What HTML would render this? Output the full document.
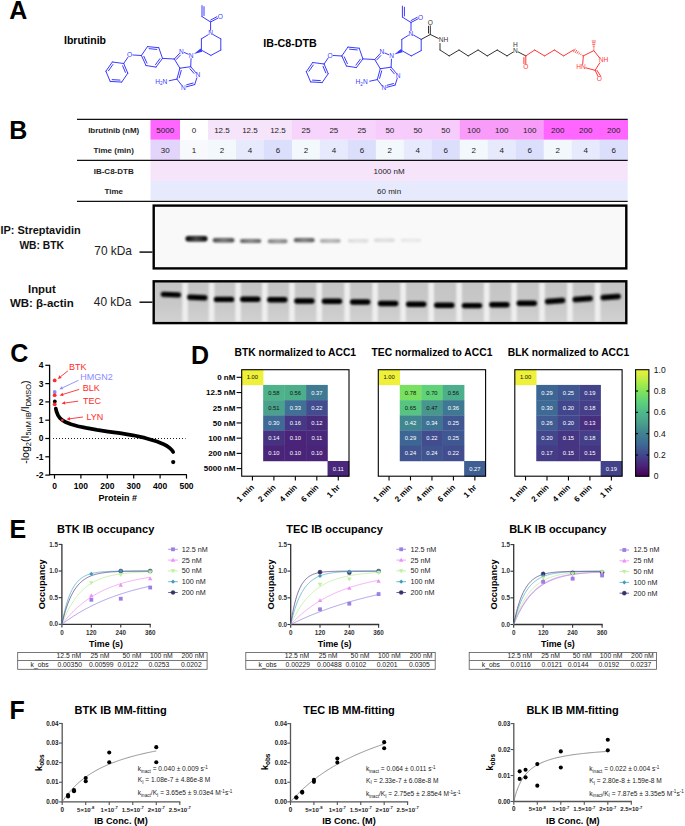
<!DOCTYPE html>
<html><head><meta charset="utf-8"><style>
html,body{margin:0;padding:0;background:#fff;}
svg{display:block;font-family:"Liberation Sans",sans-serif;}
</style></head><body>
<svg width="685" height="826" viewBox="0 0 685 826">
<rect width="685" height="826" fill="#fff"/>
<text x="9.30" y="18.90" font-size="25" font-weight="bold">A</text>
<text x="64.00" y="44.20" font-size="10.5" font-weight="bold">Ibrutinib</text>
<text x="263.30" y="47.10" font-size="10.7" font-weight="bold">IB-C8-DTB</text>
<g id="ibr"><line x1="123.70" y1="63.50" x2="112.30" y2="62.00" stroke="#3a3aff" stroke-width="1.0" stroke-linecap="round"/><line x1="112.30" y1="62.00" x2="105.90" y2="71.20" stroke="#3a3aff" stroke-width="1.0" stroke-linecap="round"/><line x1="105.90" y1="71.20" x2="110.20" y2="81.40" stroke="#3a3aff" stroke-width="1.0" stroke-linecap="round"/><line x1="110.20" y1="81.40" x2="121.70" y2="82.10" stroke="#3a3aff" stroke-width="1.0" stroke-linecap="round"/><line x1="121.70" y1="82.10" x2="127.80" y2="73.20" stroke="#3a3aff" stroke-width="1.0" stroke-linecap="round"/><line x1="127.80" y1="73.20" x2="123.70" y2="63.50" stroke="#3a3aff" stroke-width="1.0" stroke-linecap="round"/><line x1="112.84" y1="64.56" x2="108.48" y2="70.81" stroke="#3a3aff" stroke-width="1.0" stroke-linecap="round"/><line x1="112.16" y1="79.62" x2="119.98" y2="80.09" stroke="#3a3aff" stroke-width="1.0" stroke-linecap="round"/><line x1="125.39" y1="72.39" x2="122.61" y2="65.79" stroke="#3a3aff" stroke-width="1.0" stroke-linecap="round"/><line x1="123.70" y1="63.50" x2="127.80" y2="57.45" stroke="#3a3aff" stroke-width="1.0" stroke-linecap="round"/><text x="129.60" y="57.08" font-size="6.6" text-anchor="middle" fill="#3a3aff">O</text><line x1="132.79" y1="54.99" x2="141.40" y2="55.50" stroke="#3a3aff" stroke-width="1.0" stroke-linecap="round"/><line x1="141.40" y1="55.50" x2="147.50" y2="46.60" stroke="#3a3aff" stroke-width="1.0" stroke-linecap="round"/><line x1="147.50" y1="46.60" x2="158.80" y2="47.70" stroke="#3a3aff" stroke-width="1.0" stroke-linecap="round"/><line x1="158.80" y1="47.70" x2="162.50" y2="58.40" stroke="#3a3aff" stroke-width="1.0" stroke-linecap="round"/><line x1="162.50" y1="58.40" x2="156.00" y2="67.10" stroke="#3a3aff" stroke-width="1.0" stroke-linecap="round"/><line x1="156.00" y1="67.10" x2="146.00" y2="65.50" stroke="#3a3aff" stroke-width="1.0" stroke-linecap="round"/><line x1="146.00" y1="65.50" x2="141.40" y2="55.50" stroke="#3a3aff" stroke-width="1.0" stroke-linecap="round"/><line x1="149.12" y1="48.67" x2="156.81" y2="49.42" stroke="#3a3aff" stroke-width="1.0" stroke-linecap="round"/><line x1="146.99" y1="63.11" x2="143.86" y2="56.31" stroke="#3a3aff" stroke-width="1.0" stroke-linecap="round"/><line x1="159.94" y1="58.65" x2="155.52" y2="64.57" stroke="#3a3aff" stroke-width="1.0" stroke-linecap="round"/><line x1="162.50" y1="58.40" x2="174.30" y2="59.00" stroke="#3a3aff" stroke-width="1.0" stroke-linecap="round"/><line x1="174.30" y1="59.00" x2="179.45" y2="53.49" stroke="#3a3aff" stroke-width="1.0" stroke-linecap="round"/><line x1="176.33" y1="59.46" x2="180.39" y2="55.13" stroke="#3a3aff" stroke-width="1.0" stroke-linecap="round"/><line x1="184.45" y1="52.55" x2="188.25" y2="54.15" stroke="#3a3aff" stroke-width="1.0" stroke-linecap="round"/><line x1="191.06" y1="58.60" x2="190.70" y2="66.70" stroke="#3a3aff" stroke-width="1.0" stroke-linecap="round"/><line x1="190.70" y1="66.70" x2="179.90" y2="68.20" stroke="#3a3aff" stroke-width="1.0" stroke-linecap="round"/><line x1="179.90" y1="68.20" x2="174.30" y2="59.00" stroke="#3a3aff" stroke-width="1.0" stroke-linecap="round"/><line x1="190.70" y1="66.70" x2="195.84" y2="72.63" stroke="#3a3aff" stroke-width="1.0" stroke-linecap="round"/><line x1="189.97" y1="68.76" x2="193.95" y2="73.36" stroke="#3a3aff" stroke-width="1.0" stroke-linecap="round"/><line x1="196.89" y1="77.76" x2="194.70" y2="84.60" stroke="#3a3aff" stroke-width="1.0" stroke-linecap="round"/><line x1="194.70" y1="84.60" x2="186.40" y2="86.82" stroke="#3a3aff" stroke-width="1.0" stroke-linecap="round"/><line x1="193.09" y1="83.06" x2="186.64" y2="84.79" stroke="#3a3aff" stroke-width="1.0" stroke-linecap="round"/><line x1="181.66" y1="85.23" x2="176.90" y2="79.10" stroke="#3a3aff" stroke-width="1.0" stroke-linecap="round"/><line x1="176.90" y1="79.10" x2="179.90" y2="68.20" stroke="#3a3aff" stroke-width="1.0" stroke-linecap="round"/><line x1="179.21" y1="77.86" x2="181.25" y2="70.45" stroke="#3a3aff" stroke-width="1.0" stroke-linecap="round"/><line x1="176.90" y1="79.10" x2="169.21" y2="80.72" stroke="#3a3aff" stroke-width="1.0" stroke-linecap="round"/><text x="181.50" y="53.58" font-size="6.6" text-anchor="middle" fill="#3a3aff">N</text><text x="191.20" y="57.68" font-size="6.6" text-anchor="middle" fill="#3a3aff">N</text><text x="197.80" y="77.18" font-size="6.6" text-anchor="middle" fill="#3a3aff">N</text><text x="183.50" y="89.88" font-size="6.6" text-anchor="middle" fill="#3a3aff">N</text><text x="167.30" y="83.88" font-size="6.6" text-anchor="end" fill="#3a3aff">H<tspan font-size="4.6" dy="1.6">2</tspan><tspan dy="-1.6">N</tspan></text><line x1="201.40" y1="50.10" x2="201.40" y2="38.90" stroke="#3a3aff" stroke-width="1.0" stroke-linecap="round"/><line x1="201.40" y1="38.90" x2="208.05" y2="34.78" stroke="#3a3aff" stroke-width="1.0" stroke-linecap="round"/><line x1="213.22" y1="34.66" x2="220.80" y2="38.90" stroke="#3a3aff" stroke-width="1.0" stroke-linecap="round"/><line x1="220.80" y1="38.90" x2="220.80" y2="50.10" stroke="#3a3aff" stroke-width="1.0" stroke-linecap="round"/><line x1="220.80" y1="50.10" x2="210.90" y2="55.40" stroke="#3a3aff" stroke-width="1.0" stroke-linecap="round"/><line x1="210.90" y1="55.40" x2="201.40" y2="50.10" stroke="#3a3aff" stroke-width="1.0" stroke-linecap="round"/><text x="210.60" y="35.48" font-size="6.6" text-anchor="middle" fill="#3a3aff">N</text><path d="M193.86,54.02 L202.23,51.70 L200.57,48.50Z" fill="#3a3aff"/><line x1="210.60" y1="30.20" x2="210.60" y2="22.00" stroke="#3a3aff" stroke-width="1.0" stroke-linecap="round"/><line x1="210.60" y1="22.00" x2="217.64" y2="18.30" stroke="#3a3aff" stroke-width="1.0" stroke-linecap="round"/><line x1="210.69" y1="20.03" x2="216.85" y2="16.79" stroke="#3a3aff" stroke-width="1.0" stroke-linecap="round"/><text x="220.30" y="19.18" font-size="6.6" text-anchor="middle" fill="#3a3aff">O</text><line x1="210.60" y1="22.00" x2="202.00" y2="16.60" stroke="#3a3aff" stroke-width="1.0" stroke-linecap="round"/><line x1="202.00" y1="16.60" x2="202.00" y2="5.60" stroke="#3a3aff" stroke-width="1.0" stroke-linecap="round"/><line x1="204.00" y1="15.50" x2="204.00" y2="6.70" stroke="#3a3aff" stroke-width="1.0" stroke-linecap="round"/></g>
<use href="#ibr" transform="translate(200.4,0.5)"/>
<line x1="421.20" y1="39.40" x2="430.30" y2="34.50" stroke="#333333" stroke-width="1.0" stroke-linecap="round"/>
<line x1="430.30" y1="34.50" x2="430.30" y2="25.80" stroke="#333333" stroke-width="1.0" stroke-linecap="round"/>
<line x1="428.50" y1="33.50" x2="428.50" y2="25.80" stroke="#333333" stroke-width="1.0"/>
<text x="430.30" y="25.08" font-size="6.6" text-anchor="middle" fill="#333333">O</text>
<line x1="430.30" y1="34.50" x2="438.32" y2="38.40" stroke="#333333" stroke-width="1.0" stroke-linecap="round"/>
<text x="443.40" y="42.08" font-size="6.6" text-anchor="middle" fill="#333333">NH</text>
<line x1="440.00" y1="43.50" x2="440.00" y2="50.00" stroke="#333333" stroke-width="1.0" stroke-linecap="round"/>
<line x1="440.00" y1="50.00" x2="449.20" y2="55.90" stroke="#333333" stroke-width="1.0" stroke-linecap="round"/>
<line x1="449.20" y1="55.90" x2="459.00" y2="50.00" stroke="#333333" stroke-width="1.0" stroke-linecap="round"/>
<line x1="459.00" y1="50.00" x2="468.20" y2="55.90" stroke="#333333" stroke-width="1.0" stroke-linecap="round"/>
<line x1="468.20" y1="55.90" x2="478.10" y2="50.00" stroke="#333333" stroke-width="1.0" stroke-linecap="round"/>
<line x1="478.10" y1="50.00" x2="487.30" y2="55.90" stroke="#333333" stroke-width="1.0" stroke-linecap="round"/>
<line x1="487.30" y1="55.90" x2="497.20" y2="50.00" stroke="#333333" stroke-width="1.0" stroke-linecap="round"/>
<line x1="497.20" y1="50.00" x2="507.00" y2="55.90" stroke="#333333" stroke-width="1.0" stroke-linecap="round"/>
<line x1="507.00" y1="55.90" x2="512.95" y2="52.19" stroke="#333333" stroke-width="1.0" stroke-linecap="round"/>
<text x="515.50" y="52.88" font-size="6.6" text-anchor="middle" fill="#333333">N</text>
<text x="515.50" y="46.88" font-size="6.6" text-anchor="middle" fill="#333333">H</text>
<line x1="518.17" y1="51.97" x2="525.80" y2="55.90" stroke="#333333" stroke-width="1.0" stroke-linecap="round"/>
<line x1="525.80" y1="55.90" x2="525.80" y2="64.00" stroke="#ff3535" stroke-width="1.0" stroke-linecap="round"/>
<line x1="523.90" y1="57.10" x2="523.90" y2="64.00" stroke="#ff3535" stroke-width="1.0"/>
<text x="525.80" y="69.28" font-size="6.6" text-anchor="middle" fill="#ff3535">O</text>
<line x1="525.80" y1="55.90" x2="534.70" y2="50.00" stroke="#ff3535" stroke-width="1.0" stroke-linecap="round"/>
<line x1="534.70" y1="50.00" x2="544.60" y2="55.90" stroke="#ff3535" stroke-width="1.0" stroke-linecap="round"/>
<line x1="544.60" y1="55.90" x2="554.40" y2="50.00" stroke="#ff3535" stroke-width="1.0" stroke-linecap="round"/>
<line x1="554.40" y1="50.00" x2="563.60" y2="55.90" stroke="#ff3535" stroke-width="1.0" stroke-linecap="round"/>
<line x1="563.60" y1="55.90" x2="573.50" y2="50.00" stroke="#ff3535" stroke-width="1.0" stroke-linecap="round"/>
<line x1="582.72" y1="55.02" x2="582.25" y2="55.80" stroke="#ff3535" stroke-width="0.8"/>
<line x1="581.25" y1="53.76" x2="580.45" y2="55.09" stroke="#ff3535" stroke-width="0.8"/>
<line x1="579.78" y1="52.51" x2="578.65" y2="54.38" stroke="#ff3535" stroke-width="0.8"/>
<line x1="578.31" y1="51.25" x2="576.86" y2="53.66" stroke="#ff3535" stroke-width="0.8"/>
<line x1="576.84" y1="50.00" x2="575.06" y2="52.95" stroke="#ff3535" stroke-width="0.8"/>
<line x1="575.37" y1="48.74" x2="573.26" y2="52.24" stroke="#ff3535" stroke-width="0.8"/>
<line x1="583.30" y1="55.90" x2="593.80" y2="50.60" stroke="#ff3535" stroke-width="1.0" stroke-linecap="round"/>
<line x1="594.26" y1="49.73" x2="593.34" y2="49.73" stroke="#ff3535" stroke-width="0.8"/>
<line x1="594.57" y1="47.98" x2="593.02" y2="47.98" stroke="#ff3535" stroke-width="0.8"/>
<line x1="594.89" y1="46.23" x2="592.71" y2="46.23" stroke="#ff3535" stroke-width="0.8"/>
<line x1="595.21" y1="44.48" x2="592.39" y2="44.48" stroke="#ff3535" stroke-width="0.8"/>
<line x1="595.52" y1="42.73" x2="592.07" y2="42.73" stroke="#ff3535" stroke-width="0.8"/>
<line x1="595.84" y1="40.98" x2="591.76" y2="40.98" stroke="#ff3535" stroke-width="0.8"/>
<line x1="593.80" y1="50.60" x2="599.50" y2="57.70" stroke="#ff3535" stroke-width="1.0" stroke-linecap="round"/>
<line x1="599.89" y1="62.73" x2="595.10" y2="70.30" stroke="#ff3535" stroke-width="1.0" stroke-linecap="round"/>
<line x1="595.10" y1="70.30" x2="585.79" y2="67.86" stroke="#ff3535" stroke-width="1.0" stroke-linecap="round"/>
<line x1="582.72" y1="64.01" x2="583.30" y2="55.90" stroke="#ff3535" stroke-width="1.0" stroke-linecap="round"/>
<line x1="595.10" y1="70.30" x2="597.98" y2="76.20" stroke="#ff3535" stroke-width="1.0" stroke-linecap="round"/>
<line x1="596.80" y1="70.10" x2="600.80" y2="76.30" stroke="#ff3535" stroke-width="1.0"/>
<text x="599.30" y="81.18" font-size="6.6" text-anchor="middle" fill="#ff3535">O</text>
<text x="603.50" y="62.48" font-size="6.6" text-anchor="middle" fill="#ff3535">NH</text>
<text x="580.90" y="69.28" font-size="6.6" text-anchor="middle" fill="#ff3535">HN</text>
<text x="9.20" y="139.20" font-size="25" font-weight="bold">B</text>
<rect x="150.50" y="119.80" width="29.80" height="20.00" fill="#ff66ff"/>
<rect x="150.50" y="139.80" width="29.80" height="20.00" fill="#e2d4fb"/>
<text x="165.25" y="132.66" font-size="8" text-anchor="middle" fill="#222">5000</text>
<text x="165.25" y="152.76" font-size="8" text-anchor="middle" fill="#222">30</text>
<rect x="180.00" y="119.80" width="28.28" height="20.00" fill="#ffffff"/>
<rect x="180.00" y="139.80" width="28.28" height="20.00" fill="#f7f9fc"/>
<text x="193.99" y="132.66" font-size="8" text-anchor="middle" fill="#222">0</text>
<text x="193.99" y="152.76" font-size="8" text-anchor="middle" fill="#222">1</text>
<rect x="207.98" y="119.80" width="28.28" height="20.00" fill="#f6e4fb"/>
<rect x="207.98" y="139.80" width="28.28" height="20.00" fill="#f3f8fc"/>
<text x="221.97" y="132.66" font-size="8" text-anchor="middle" fill="#222">12.5</text>
<text x="221.97" y="152.76" font-size="8" text-anchor="middle" fill="#222">2</text>
<rect x="235.96" y="119.80" width="28.28" height="20.00" fill="#f6e4fb"/>
<rect x="235.96" y="139.80" width="28.28" height="20.00" fill="#e7eafd"/>
<text x="249.95" y="132.66" font-size="8" text-anchor="middle" fill="#222">12.5</text>
<text x="249.95" y="152.76" font-size="8" text-anchor="middle" fill="#222">4</text>
<rect x="263.94" y="119.80" width="28.28" height="20.00" fill="#f6e4fb"/>
<rect x="263.94" y="139.80" width="28.28" height="20.00" fill="#dcdffc"/>
<text x="277.93" y="132.66" font-size="8" text-anchor="middle" fill="#222">12.5</text>
<text x="277.93" y="152.76" font-size="8" text-anchor="middle" fill="#222">6</text>
<rect x="291.92" y="119.80" width="28.28" height="20.00" fill="#f7d4fc"/>
<rect x="291.92" y="139.80" width="28.28" height="20.00" fill="#f3f8fc"/>
<text x="305.91" y="132.66" font-size="8" text-anchor="middle" fill="#222">25</text>
<text x="305.91" y="152.76" font-size="8" text-anchor="middle" fill="#222">2</text>
<rect x="319.90" y="119.80" width="28.28" height="20.00" fill="#f7d4fc"/>
<rect x="319.90" y="139.80" width="28.28" height="20.00" fill="#e7eafd"/>
<text x="333.89" y="132.66" font-size="8" text-anchor="middle" fill="#222">25</text>
<text x="333.89" y="152.76" font-size="8" text-anchor="middle" fill="#222">4</text>
<rect x="347.88" y="119.80" width="28.28" height="20.00" fill="#f7d4fc"/>
<rect x="347.88" y="139.80" width="28.28" height="20.00" fill="#dcdffc"/>
<text x="361.87" y="132.66" font-size="8" text-anchor="middle" fill="#222">25</text>
<text x="361.87" y="152.76" font-size="8" text-anchor="middle" fill="#222">6</text>
<rect x="375.86" y="119.80" width="28.28" height="20.00" fill="#f7ccfc"/>
<rect x="375.86" y="139.80" width="28.28" height="20.00" fill="#f3f8fc"/>
<text x="389.85" y="132.66" font-size="8" text-anchor="middle" fill="#222">50</text>
<text x="389.85" y="152.76" font-size="8" text-anchor="middle" fill="#222">2</text>
<rect x="403.84" y="119.80" width="28.28" height="20.00" fill="#f7ccfc"/>
<rect x="403.84" y="139.80" width="28.28" height="20.00" fill="#e7eafd"/>
<text x="417.83" y="132.66" font-size="8" text-anchor="middle" fill="#222">50</text>
<text x="417.83" y="152.76" font-size="8" text-anchor="middle" fill="#222">4</text>
<rect x="431.82" y="119.80" width="28.28" height="20.00" fill="#f7ccfc"/>
<rect x="431.82" y="139.80" width="28.28" height="20.00" fill="#dcdffc"/>
<text x="445.81" y="132.66" font-size="8" text-anchor="middle" fill="#222">50</text>
<text x="445.81" y="152.76" font-size="8" text-anchor="middle" fill="#222">6</text>
<rect x="459.80" y="119.80" width="28.28" height="20.00" fill="#f99cf9"/>
<rect x="459.80" y="139.80" width="28.28" height="20.00" fill="#f3f8fc"/>
<text x="473.79" y="132.66" font-size="8" text-anchor="middle" fill="#222">100</text>
<text x="473.79" y="152.76" font-size="8" text-anchor="middle" fill="#222">2</text>
<rect x="487.78" y="119.80" width="28.28" height="20.00" fill="#f99cf9"/>
<rect x="487.78" y="139.80" width="28.28" height="20.00" fill="#e7eafd"/>
<text x="501.77" y="132.66" font-size="8" text-anchor="middle" fill="#222">100</text>
<text x="501.77" y="152.76" font-size="8" text-anchor="middle" fill="#222">4</text>
<rect x="515.76" y="119.80" width="28.28" height="20.00" fill="#f99cf9"/>
<rect x="515.76" y="139.80" width="28.28" height="20.00" fill="#dcdffc"/>
<text x="529.75" y="132.66" font-size="8" text-anchor="middle" fill="#222">100</text>
<text x="529.75" y="152.76" font-size="8" text-anchor="middle" fill="#222">6</text>
<rect x="543.74" y="119.80" width="28.28" height="20.00" fill="#ff66ff"/>
<rect x="543.74" y="139.80" width="28.28" height="20.00" fill="#f3f8fc"/>
<text x="557.73" y="132.66" font-size="8" text-anchor="middle" fill="#222">200</text>
<text x="557.73" y="152.76" font-size="8" text-anchor="middle" fill="#222">2</text>
<rect x="571.72" y="119.80" width="28.28" height="20.00" fill="#ff66ff"/>
<rect x="571.72" y="139.80" width="28.28" height="20.00" fill="#e7eafd"/>
<text x="585.71" y="132.66" font-size="8" text-anchor="middle" fill="#222">200</text>
<text x="585.71" y="152.76" font-size="8" text-anchor="middle" fill="#222">4</text>
<rect x="599.70" y="119.80" width="28.28" height="20.00" fill="#ff66ff"/>
<rect x="599.70" y="139.80" width="28.28" height="20.00" fill="#dcdffc"/>
<text x="613.69" y="132.66" font-size="8" text-anchor="middle" fill="#222">200</text>
<text x="613.69" y="152.76" font-size="8" text-anchor="middle" fill="#222">6</text>
<rect x="150.50" y="160.90" width="477.20" height="20.00" fill="#f6e4fb"/>
<rect x="150.50" y="180.90" width="477.20" height="19.20" fill="#e7eafd"/>
<text x="389.10" y="173.76" font-size="8" text-anchor="middle" fill="#222">1000 nM</text>
<text x="389.10" y="194.26" font-size="8" text-anchor="middle" fill="#222">60 min</text>
<text x="113.70" y="132.66" font-size="8" font-weight="bold" text-anchor="middle" fill="#222">Ibrutinib (nM)</text>
<text x="113.70" y="153.06" font-size="8" font-weight="bold" text-anchor="middle" fill="#222">Time (min)</text>
<text x="113.70" y="173.56" font-size="8" font-weight="bold" text-anchor="middle" fill="#222">IB-C8-DTB</text>
<text x="113.70" y="194.36" font-size="8" font-weight="bold" text-anchor="middle" fill="#222">Time</text>
<line x1="77.00" y1="119.40" x2="627.70" y2="119.40" stroke="#111" stroke-width="1.2"/>
<line x1="77.00" y1="160.30" x2="627.70" y2="160.30" stroke="#111" stroke-width="1.2"/>
<line x1="77.00" y1="201.30" x2="627.70" y2="201.30" stroke="#111" stroke-width="1.2"/>
<text x="0.50" y="234.40" font-size="11.5" font-weight="bold" fill="#111" textLength="80.20" lengthAdjust="spacingAndGlyphs">IP: Streptavidin</text>
<text x="19.40" y="249.20" font-size="11.5" font-weight="bold" fill="#111" textLength="44.60" lengthAdjust="spacingAndGlyphs">WB: BTK</text>
<text x="94.30" y="255.40" font-size="13" fill="#222" textLength="37.70" lengthAdjust="spacingAndGlyphs">70 kDa</text>
<line x1="139.50" y1="252.10" x2="152.50" y2="252.10" stroke="#111" stroke-width="1.5"/>
<text x="28.00" y="292.60" font-size="11.5" font-weight="bold" fill="#111" textLength="27.80" lengthAdjust="spacingAndGlyphs">Input</text>
<text x="9.90" y="307.00" font-size="11.5" font-weight="bold" fill="#111" textLength="63.80" lengthAdjust="spacingAndGlyphs">WB: β-actin</text>
<text x="93.80" y="305.50" font-size="13" fill="#222" textLength="37.70" lengthAdjust="spacingAndGlyphs">40 kDa</text>
<line x1="139.50" y1="302.20" x2="152.50" y2="302.20" stroke="#111" stroke-width="1.5"/>
<defs><filter id="bl1" x="-50%" y="-100%" width="200%" height="300%"><feGaussianBlur stdDeviation="1.1"/></filter><filter id="bl2" x="-50%" y="-100%" width="200%" height="300%"><feGaussianBlur stdDeviation="0.8"/></filter><filter id="bl3" x="-20%" y="-20%" width="140%" height="140%"><feGaussianBlur stdDeviation="1.5"/></filter></defs>
<rect x="153.70" y="205.60" width="472.60" height="62.80" fill="#f9f9f9"/>
<defs><linearGradient id="bg1" x1="0" x2="1" y1="0" y2="0"><stop offset="0" stop-color="#fff" stop-opacity="0"/><stop offset="0.5" stop-color="#fff" stop-opacity="0.28"/><stop offset="1" stop-color="#fff" stop-opacity="0"/></linearGradient></defs>
<rect x="185.5" y="236.1" width="22.0" height="5.4" rx="2.7" fill="#000000" filter="url(#bl1)"/>
<rect x="185.5" y="236.1" width="22.0" height="5.4" fill="url(#bg1)" filter="url(#bl1)"/>
<rect x="212.8" y="237.9" width="21.6" height="4.6" rx="2.3" fill="#4a4a4a" filter="url(#bl1)"/>
<rect x="212.8" y="237.9" width="21.6" height="4.6" fill="url(#bg1)" filter="url(#bl1)"/>
<rect x="240.0" y="238.9" width="21.2" height="4.2" rx="2.1" fill="#5e5e5e" filter="url(#bl1)"/>
<rect x="240.0" y="238.9" width="21.2" height="4.2" fill="url(#bg1)" filter="url(#bl1)"/>
<rect x="267.8" y="239.2" width="19.6" height="4.0" rx="2.0" fill="#7c7c7c" filter="url(#bl1)"/>
<rect x="267.8" y="239.2" width="19.6" height="4.0" fill="url(#bg1)" filter="url(#bl1)"/>
<rect x="293.9" y="238.1" width="20.7" height="4.2" rx="2.1" fill="#5a5a5a" filter="url(#bl1)"/>
<rect x="293.9" y="238.1" width="20.7" height="4.2" fill="url(#bg1)" filter="url(#bl1)"/>
<rect x="320.0" y="238.9" width="20.6" height="3.8" rx="1.9" fill="#a4a4a4" filter="url(#bl1)"/>
<rect x="320.0" y="238.9" width="20.6" height="3.8" fill="url(#bg1)" filter="url(#bl1)"/>
<rect x="347.8" y="239.1" width="20.6" height="3.4" rx="1.7" fill="#dadada" filter="url(#bl1)"/>
<rect x="347.8" y="239.1" width="20.6" height="3.4" fill="url(#bg1)" filter="url(#bl1)"/>
<rect x="374.0" y="238.5" width="20.6" height="3.4" rx="1.7" fill="#d8d8d8" filter="url(#bl1)"/>
<rect x="374.0" y="238.5" width="20.6" height="3.4" fill="url(#bg1)" filter="url(#bl1)"/>
<rect x="401.0" y="238.7" width="20.0" height="3.0" rx="1.5" fill="#e4e4e4" filter="url(#bl1)"/>
<rect x="401.0" y="238.7" width="20.0" height="3.0" fill="url(#bg1)" filter="url(#bl1)"/>
<rect x="153.7" y="205.6" width="472.6" height="62.8" fill="none" stroke="#000" stroke-width="2.4"/>
<defs><linearGradient id="ag" x1="0" y1="0" x2="0" y2="1"><stop offset="0" stop-color="#c4c4c4"/><stop offset="0.55" stop-color="#c8c8c8"/><stop offset="1" stop-color="#d2d2d2"/></linearGradient><filter id="bl4" x="-100%" y="-10%" width="300%" height="120%"><feGaussianBlur stdDeviation="1.3"/></filter></defs>
<rect x="153.70" y="281.30" width="472.60" height="41.80" fill="url(#ag)"/>
<rect x="182.3" y="282.5" width="5.6" height="39.5" fill="#eeeeee" filter="url(#bl4)"/>
<rect x="208.8" y="282.5" width="5.6" height="39.5" fill="#eeeeee" filter="url(#bl4)"/>
<rect x="235.3" y="282.5" width="5.6" height="39.5" fill="#eeeeee" filter="url(#bl4)"/>
<rect x="262.0" y="282.5" width="5.6" height="39.5" fill="#eeeeee" filter="url(#bl4)"/>
<rect x="289.1" y="282.5" width="5.6" height="39.5" fill="#eeeeee" filter="url(#bl4)"/>
<rect x="316.4" y="282.5" width="5.6" height="39.5" fill="#eeeeee" filter="url(#bl4)"/>
<rect x="344.3" y="282.5" width="5.6" height="39.5" fill="#eeeeee" filter="url(#bl4)"/>
<rect x="372.3" y="282.5" width="5.6" height="39.5" fill="#eeeeee" filter="url(#bl4)"/>
<rect x="400.3" y="282.5" width="5.6" height="39.5" fill="#eeeeee" filter="url(#bl4)"/>
<rect x="428.4" y="282.5" width="5.6" height="39.5" fill="#eeeeee" filter="url(#bl4)"/>
<rect x="456.3" y="282.5" width="5.6" height="39.5" fill="#eeeeee" filter="url(#bl4)"/>
<rect x="483.9" y="282.5" width="5.6" height="39.5" fill="#eeeeee" filter="url(#bl4)"/>
<rect x="511.3" y="282.5" width="5.6" height="39.5" fill="#eeeeee" filter="url(#bl4)"/>
<rect x="539.2" y="282.5" width="5.6" height="39.5" fill="#eeeeee" filter="url(#bl4)"/>
<rect x="567.1" y="282.5" width="5.6" height="39.5" fill="#eeeeee" filter="url(#bl4)"/>
<rect x="594.9" y="282.5" width="5.6" height="39.5" fill="#eeeeee" filter="url(#bl4)"/>
<rect x="160.7" y="291.9" width="20.4" height="5.4" rx="2.7" fill="#050505" transform="rotate(2.41 170.9 294.6)" filter="url(#bl2)"/>
<rect x="187.1" y="294.8" width="20.4" height="5.4" rx="2.7" fill="#050505" transform="rotate(2.41 197.3 297.5)" filter="url(#bl2)"/>
<rect x="213.8" y="296.7" width="20.4" height="5.4" rx="2.7" fill="#050505" transform="rotate(0.00 224.0 299.4)" filter="url(#bl2)"/>
<rect x="240.1" y="296.6" width="20.4" height="5.4" rx="2.7" fill="#050505" transform="rotate(0.00 250.3 299.3)" filter="url(#bl2)"/>
<rect x="267.1" y="297.1" width="20.4" height="5.4" rx="2.7" fill="#050505" transform="rotate(0.00 277.3 299.8)" filter="url(#bl2)"/>
<rect x="294.2" y="298.3" width="20.4" height="5.4" rx="2.7" fill="#050505" transform="rotate(0.00 304.4 301.0)" filter="url(#bl2)"/>
<rect x="321.8" y="298.6" width="20.4" height="5.4" rx="2.7" fill="#050505" transform="rotate(0.00 332.0 301.3)" filter="url(#bl2)"/>
<rect x="350.0" y="299.3" width="20.4" height="5.4" rx="2.7" fill="#050505" transform="rotate(0.00 360.2 302.0)" filter="url(#bl2)"/>
<rect x="377.9" y="300.8" width="20.4" height="5.4" rx="2.7" fill="#050505" transform="rotate(0.00 388.1 303.5)" filter="url(#bl2)"/>
<rect x="406.0" y="301.6" width="20.4" height="5.4" rx="2.7" fill="#050505" transform="rotate(0.00 416.2 304.3)" filter="url(#bl2)"/>
<rect x="434.1" y="302.5" width="20.4" height="5.4" rx="2.7" fill="#050505" transform="rotate(0.00 444.3 305.2)" filter="url(#bl2)"/>
<rect x="461.8" y="302.9" width="20.4" height="5.4" rx="2.7" fill="#050505" transform="rotate(0.00 472.0 305.6)" filter="url(#bl2)"/>
<rect x="489.2" y="302.1" width="20.4" height="5.4" rx="2.7" fill="#050505" transform="rotate(0.00 499.4 304.8)" filter="url(#bl2)"/>
<rect x="516.6" y="300.5" width="20.4" height="5.4" rx="2.7" fill="#050505" transform="rotate(0.00 526.8 303.2)" filter="url(#bl2)"/>
<rect x="544.9" y="298.3" width="20.4" height="5.4" rx="2.7" fill="#050505" transform="rotate(-4.21 555.1 301.0)" filter="url(#bl2)"/>
<rect x="572.5" y="296.3" width="20.4" height="5.4" rx="2.7" fill="#050505" transform="rotate(-4.21 582.7 299.0)" filter="url(#bl2)"/>
<rect x="600.5" y="294.3" width="20.4" height="5.4" rx="2.7" fill="#050505" transform="rotate(-4.21 610.7 297.0)" filter="url(#bl2)"/>
<rect x="153.7" y="281.3" width="472.6" height="41.8" fill="none" stroke="#000" stroke-width="2.4"/>
<text x="10.30" y="362.40" font-size="25" font-weight="bold">C</text>
<line x1="49.60" y1="364.80" x2="49.60" y2="475.20" stroke="#000" stroke-width="1.3"/>
<line x1="49.00" y1="474.70" x2="186.90" y2="474.70" stroke="#000" stroke-width="1.3"/>
<line x1="45.30" y1="475.10" x2="49.60" y2="475.10" stroke="#000" stroke-width="1.2"/>
<text x="43.60" y="478.03" font-size="8.5" font-weight="bold" text-anchor="end">-2</text>
<line x1="45.30" y1="456.80" x2="49.60" y2="456.80" stroke="#000" stroke-width="1.2"/>
<text x="43.60" y="459.73" font-size="8.5" font-weight="bold" text-anchor="end">-1</text>
<line x1="45.30" y1="438.50" x2="49.60" y2="438.50" stroke="#000" stroke-width="1.2"/>
<text x="43.60" y="441.43" font-size="8.5" font-weight="bold" text-anchor="end">0</text>
<line x1="45.30" y1="420.20" x2="49.60" y2="420.20" stroke="#000" stroke-width="1.2"/>
<text x="43.60" y="423.13" font-size="8.5" font-weight="bold" text-anchor="end">1</text>
<line x1="45.30" y1="401.90" x2="49.60" y2="401.90" stroke="#000" stroke-width="1.2"/>
<text x="43.60" y="404.83" font-size="8.5" font-weight="bold" text-anchor="end">2</text>
<line x1="45.30" y1="383.60" x2="49.60" y2="383.60" stroke="#000" stroke-width="1.2"/>
<text x="43.60" y="386.53" font-size="8.5" font-weight="bold" text-anchor="end">3</text>
<line x1="45.30" y1="365.30" x2="49.60" y2="365.30" stroke="#000" stroke-width="1.2"/>
<text x="43.60" y="368.23" font-size="8.5" font-weight="bold" text-anchor="end">4</text>
<line x1="54.50" y1="474.70" x2="54.50" y2="478.60" stroke="#000" stroke-width="1.2"/>
<text x="54.50" y="489.33" font-size="8.5" font-weight="bold" text-anchor="middle">0</text>
<line x1="80.90" y1="474.70" x2="80.90" y2="478.60" stroke="#000" stroke-width="1.2"/>
<text x="80.90" y="489.33" font-size="8.5" font-weight="bold" text-anchor="middle">100</text>
<line x1="107.30" y1="474.70" x2="107.30" y2="478.60" stroke="#000" stroke-width="1.2"/>
<text x="107.30" y="489.33" font-size="8.5" font-weight="bold" text-anchor="middle">200</text>
<line x1="133.70" y1="474.70" x2="133.70" y2="478.60" stroke="#000" stroke-width="1.2"/>
<text x="133.70" y="489.33" font-size="8.5" font-weight="bold" text-anchor="middle">300</text>
<line x1="160.10" y1="474.70" x2="160.10" y2="478.60" stroke="#000" stroke-width="1.2"/>
<text x="160.10" y="489.33" font-size="8.5" font-weight="bold" text-anchor="middle">400</text>
<line x1="186.50" y1="474.70" x2="186.50" y2="478.60" stroke="#000" stroke-width="1.2"/>
<text x="186.50" y="489.33" font-size="8.5" font-weight="bold" text-anchor="middle">500</text>
<text x="117.70" y="501.21" font-size="9" font-weight="bold" text-anchor="middle">Protein #</text>
<text transform="translate(29.0,422.2) rotate(-90)" font-size="10.6" text-anchor="middle">-log<tspan font-size="7.4" dy="2.4">2</tspan><tspan dy="-2.4">(I</tspan><tspan font-size="7.4" dy="2.4">5uM IB</tspan><tspan dy="-2.4">/I</tspan><tspan font-size="7.4" dy="2.4">DMSO</tspan><tspan dy="-2.4">)</tspan></text>
<line x1="53" y1="438.50" x2="185.5" y2="438.50" stroke="#000" stroke-width="0.9" stroke-dasharray="1 2"/>
<path d="M55.8,408.6 L56.5,411.5 L58.0,415.3 L60.0,418.2 L62.3,420.2 L66.0,422.3 L71.0,424.3 L78.0,426.2 L86.0,427.9 L97.0,429.9 L108.0,431.6 L120.0,433.2 L133.0,435.3 L145.0,437.9 L157.0,441.6 L163.0,443.9 L167.0,446.0 L170.0,448.2 L172.0,450.2 L173.2,452.0" fill="none" stroke="#000" stroke-width="3.7" stroke-linecap="round" stroke-linejoin="round"/>
<circle cx="173.2" cy="462.1" r="2.1" fill="#000"/>
<circle cx="54.8" cy="401.5" r="1.9" fill="#000"/>
<circle cx="54.7" cy="380.4" r="1.9" fill="#ff2a2a"/>
<circle cx="54.7" cy="392.0" r="1.9" fill="#8a8aff"/>
<circle cx="54.7" cy="395.2" r="1.9" fill="#ff2a2a"/>
<circle cx="54.7" cy="404.3" r="1.9" fill="#ff2a2a"/>
<circle cx="62.3" cy="420.3" r="1.3" fill="#ff2a2a"/>
<text x="68.90" y="369.61" font-size="9" fill="#ff2a2a">BTK</text>
<text x="80.30" y="379.71" font-size="9" fill="#8a8aff">HMGN2</text>
<text x="82.80" y="391.31" font-size="9" fill="#ff2a2a">BLK</text>
<text x="83.00" y="404.21" font-size="9" fill="#ff2a2a">TEC</text>
<text x="86.40" y="420.00" font-size="9" fill="#ff2a2a">LYN</text>
<line x1="67.90" y1="370.90" x2="60.62" y2="376.66" stroke="#ff2a2a" stroke-width="0.9"/>
<path d="M57.80,378.90 L59.57,375.33 L61.68,378.00Z" fill="#ff2a2a"/>
<line x1="78.50" y1="380.30" x2="62.56" y2="387.77" stroke="#8a8aff" stroke-width="0.9"/>
<path d="M59.30,389.30 L61.84,386.23 L63.28,389.31Z" fill="#8a8aff"/>
<line x1="79.20" y1="389.40" x2="63.04" y2="394.35" stroke="#ff2a2a" stroke-width="0.9"/>
<path d="M59.60,395.40 L62.54,392.72 L63.54,395.97Z" fill="#ff2a2a"/>
<line x1="78.20" y1="401.20" x2="65.17" y2="402.93" stroke="#ff2a2a" stroke-width="0.9"/>
<path d="M61.60,403.40 L64.95,401.24 L65.39,404.61Z" fill="#ff2a2a"/>
<line x1="83.00" y1="417.00" x2="70.07" y2="418.72" stroke="#ff2a2a" stroke-width="0.9"/>
<path d="M66.50,419.20 L69.84,417.04 L70.29,420.41Z" fill="#ff2a2a"/>
<text x="191.00" y="363.90" font-size="25" font-weight="bold">D</text>
<rect x="241.70" y="369.70" width="21.71" height="15.46" fill="#eef03a"/>
<text x="252.43" y="379.31" font-size="5.8" text-anchor="middle" fill="#111">1.00</text>
<rect x="263.16" y="384.91" width="21.71" height="15.46" fill="#4eb38b"/>
<text x="273.89" y="394.52" font-size="5.8" text-anchor="middle" fill="#111">0.58</text>
<rect x="284.62" y="384.91" width="21.71" height="15.46" fill="#4dae8b"/>
<text x="295.35" y="394.52" font-size="5.8" text-anchor="middle" fill="#111">0.56</text>
<rect x="306.08" y="384.91" width="21.71" height="15.46" fill="#3f7a92"/>
<text x="316.81" y="394.52" font-size="5.8" text-anchor="middle" fill="#fff">0.37</text>
<rect x="263.16" y="400.13" width="21.71" height="15.46" fill="#4aa28c"/>
<text x="273.89" y="409.74" font-size="5.8" text-anchor="middle" fill="#111">0.51</text>
<rect x="284.62" y="400.13" width="21.71" height="15.46" fill="#3e7194"/>
<text x="295.35" y="409.74" font-size="5.8" text-anchor="middle" fill="#fff">0.33</text>
<rect x="306.08" y="400.13" width="21.71" height="15.46" fill="#414d8e"/>
<text x="316.81" y="409.74" font-size="5.8" text-anchor="middle" fill="#fff">0.22</text>
<rect x="263.16" y="415.34" width="21.71" height="15.46" fill="#3e6a96"/>
<text x="273.89" y="424.95" font-size="5.8" text-anchor="middle" fill="#fff">0.30</text>
<rect x="284.62" y="415.34" width="21.71" height="15.46" fill="#453884"/>
<text x="295.35" y="424.95" font-size="5.8" text-anchor="middle" fill="#fff">0.16</text>
<rect x="306.08" y="415.34" width="21.71" height="15.46" fill="#482b7d"/>
<text x="316.81" y="424.95" font-size="5.8" text-anchor="middle" fill="#fff">0.12</text>
<rect x="263.16" y="430.56" width="21.71" height="15.46" fill="#473281"/>
<text x="273.89" y="440.17" font-size="5.8" text-anchor="middle" fill="#fff">0.14</text>
<rect x="284.62" y="430.56" width="21.71" height="15.46" fill="#4a2479"/>
<text x="295.35" y="440.17" font-size="5.8" text-anchor="middle" fill="#fff">0.10</text>
<rect x="306.08" y="430.56" width="21.71" height="15.46" fill="#49277b"/>
<text x="316.81" y="440.17" font-size="5.8" text-anchor="middle" fill="#fff">0.11</text>
<rect x="263.16" y="445.77" width="21.71" height="15.46" fill="#4a2479"/>
<text x="273.89" y="455.38" font-size="5.8" text-anchor="middle" fill="#fff">0.10</text>
<rect x="284.62" y="445.77" width="21.71" height="15.46" fill="#4a2479"/>
<text x="295.35" y="455.38" font-size="5.8" text-anchor="middle" fill="#fff">0.10</text>
<rect x="306.08" y="445.77" width="21.71" height="15.46" fill="#4a2479"/>
<text x="316.81" y="455.38" font-size="5.8" text-anchor="middle" fill="#fff">0.10</text>
<rect x="327.54" y="460.99" width="21.71" height="15.46" fill="#49277b"/>
<text x="338.27" y="470.59" font-size="5.8" text-anchor="middle" fill="#fff">0.11</text>
<rect x="241.70" y="369.70" width="107.30" height="106.50" fill="none" stroke="#000" stroke-width="1.1"/>
<text x="295.35" y="355.65" font-size="10.3" font-weight="bold" text-anchor="middle">BTK normalized to ACC1</text>
<line x1="252.43" y1="476.20" x2="252.43" y2="480.40" stroke="#000" stroke-width="1.1"/>
<text transform="translate(254.63,487.80) rotate(-45)" font-size="8" font-weight="bold" text-anchor="end">1 min</text>
<line x1="273.89" y1="476.20" x2="273.89" y2="480.40" stroke="#000" stroke-width="1.1"/>
<text transform="translate(276.09,487.80) rotate(-45)" font-size="8" font-weight="bold" text-anchor="end">2 min</text>
<line x1="295.35" y1="476.20" x2="295.35" y2="480.40" stroke="#000" stroke-width="1.1"/>
<text transform="translate(297.55,487.80) rotate(-45)" font-size="8" font-weight="bold" text-anchor="end">4 min</text>
<line x1="316.81" y1="476.20" x2="316.81" y2="480.40" stroke="#000" stroke-width="1.1"/>
<text transform="translate(319.01,487.80) rotate(-45)" font-size="8" font-weight="bold" text-anchor="end">6 min</text>
<line x1="338.27" y1="476.20" x2="338.27" y2="480.40" stroke="#000" stroke-width="1.1"/>
<text transform="translate(340.47,487.80) rotate(-45)" font-size="8" font-weight="bold" text-anchor="end">1 hr</text>
<rect x="378.30" y="369.70" width="21.71" height="15.46" fill="#eef03a"/>
<text x="389.03" y="379.31" font-size="5.8" text-anchor="middle" fill="#111">1.00</text>
<rect x="399.76" y="384.91" width="21.71" height="15.46" fill="#79e060"/>
<text x="410.49" y="394.52" font-size="5.8" text-anchor="middle" fill="#111">0.78</text>
<rect x="421.22" y="384.91" width="21.71" height="15.46" fill="#5fd27a"/>
<text x="431.95" y="394.52" font-size="5.8" text-anchor="middle" fill="#111">0.70</text>
<rect x="442.68" y="384.91" width="21.71" height="15.46" fill="#4dae8b"/>
<text x="453.41" y="394.52" font-size="5.8" text-anchor="middle" fill="#111">0.56</text>
<rect x="399.76" y="400.13" width="21.71" height="15.46" fill="#57c582"/>
<text x="410.49" y="409.74" font-size="5.8" text-anchor="middle" fill="#111">0.65</text>
<rect x="421.22" y="400.13" width="21.71" height="15.46" fill="#47978d"/>
<text x="431.95" y="409.74" font-size="5.8" text-anchor="middle" fill="#111">0.47</text>
<rect x="442.68" y="400.13" width="21.71" height="15.46" fill="#3f7892"/>
<text x="453.41" y="409.74" font-size="5.8" text-anchor="middle" fill="#fff">0.36</text>
<rect x="399.76" y="415.34" width="21.71" height="15.46" fill="#41878f"/>
<text x="410.49" y="424.95" font-size="5.8" text-anchor="middle" fill="#fff">0.42</text>
<rect x="421.22" y="415.34" width="21.71" height="15.46" fill="#3e7394"/>
<text x="431.95" y="424.95" font-size="5.8" text-anchor="middle" fill="#fff">0.34</text>
<rect x="442.68" y="415.34" width="21.71" height="15.46" fill="#405891"/>
<text x="453.41" y="424.95" font-size="5.8" text-anchor="middle" fill="#fff">0.25</text>
<rect x="399.76" y="430.56" width="21.71" height="15.46" fill="#3e6695"/>
<text x="410.49" y="440.17" font-size="5.8" text-anchor="middle" fill="#fff">0.29</text>
<rect x="421.22" y="430.56" width="21.71" height="15.46" fill="#414d8e"/>
<text x="431.95" y="440.17" font-size="5.8" text-anchor="middle" fill="#fff">0.22</text>
<rect x="442.68" y="430.56" width="21.71" height="15.46" fill="#405891"/>
<text x="453.41" y="440.17" font-size="5.8" text-anchor="middle" fill="#fff">0.25</text>
<rect x="399.76" y="445.77" width="21.71" height="15.46" fill="#405490"/>
<text x="410.49" y="455.38" font-size="5.8" text-anchor="middle" fill="#fff">0.24</text>
<rect x="421.22" y="445.77" width="21.71" height="15.46" fill="#405490"/>
<text x="431.95" y="455.38" font-size="5.8" text-anchor="middle" fill="#fff">0.24</text>
<rect x="442.68" y="445.77" width="21.71" height="15.46" fill="#414d8e"/>
<text x="453.41" y="455.38" font-size="5.8" text-anchor="middle" fill="#fff">0.22</text>
<rect x="464.14" y="460.99" width="21.71" height="15.46" fill="#3f5f93"/>
<text x="474.87" y="470.59" font-size="5.8" text-anchor="middle" fill="#fff">0.27</text>
<rect x="378.30" y="369.70" width="107.30" height="106.50" fill="none" stroke="#000" stroke-width="1.1"/>
<text x="431.95" y="355.65" font-size="10.3" font-weight="bold" text-anchor="middle">TEC normalized to ACC1</text>
<line x1="389.03" y1="476.20" x2="389.03" y2="480.40" stroke="#000" stroke-width="1.1"/>
<text transform="translate(391.23,487.80) rotate(-45)" font-size="8" font-weight="bold" text-anchor="end">1 min</text>
<line x1="410.49" y1="476.20" x2="410.49" y2="480.40" stroke="#000" stroke-width="1.1"/>
<text transform="translate(412.69,487.80) rotate(-45)" font-size="8" font-weight="bold" text-anchor="end">2 min</text>
<line x1="431.95" y1="476.20" x2="431.95" y2="480.40" stroke="#000" stroke-width="1.1"/>
<text transform="translate(434.15,487.80) rotate(-45)" font-size="8" font-weight="bold" text-anchor="end">4 min</text>
<line x1="453.41" y1="476.20" x2="453.41" y2="480.40" stroke="#000" stroke-width="1.1"/>
<text transform="translate(455.61,487.80) rotate(-45)" font-size="8" font-weight="bold" text-anchor="end">6 min</text>
<line x1="474.87" y1="476.20" x2="474.87" y2="480.40" stroke="#000" stroke-width="1.1"/>
<text transform="translate(477.07,487.80) rotate(-45)" font-size="8" font-weight="bold" text-anchor="end">1 hr</text>
<rect x="514.80" y="369.70" width="21.71" height="15.46" fill="#eef03a"/>
<text x="525.53" y="379.31" font-size="5.8" text-anchor="middle" fill="#111">1.00</text>
<rect x="536.26" y="384.91" width="21.71" height="15.46" fill="#3e6695"/>
<text x="546.99" y="394.52" font-size="5.8" text-anchor="middle" fill="#fff">0.29</text>
<rect x="557.72" y="384.91" width="21.71" height="15.46" fill="#405891"/>
<text x="568.45" y="394.52" font-size="5.8" text-anchor="middle" fill="#fff">0.25</text>
<rect x="579.18" y="384.91" width="21.71" height="15.46" fill="#43438a"/>
<text x="589.91" y="394.52" font-size="5.8" text-anchor="middle" fill="#fff">0.19</text>
<rect x="536.26" y="400.13" width="21.71" height="15.46" fill="#3e6a96"/>
<text x="546.99" y="409.74" font-size="5.8" text-anchor="middle" fill="#fff">0.30</text>
<rect x="557.72" y="400.13" width="21.71" height="15.46" fill="#42468c"/>
<text x="568.45" y="409.74" font-size="5.8" text-anchor="middle" fill="#fff">0.20</text>
<rect x="579.18" y="400.13" width="21.71" height="15.46" fill="#443f88"/>
<text x="589.91" y="409.74" font-size="5.8" text-anchor="middle" fill="#fff">0.18</text>
<rect x="536.26" y="415.34" width="21.71" height="15.46" fill="#405c92"/>
<text x="546.99" y="424.95" font-size="5.8" text-anchor="middle" fill="#fff">0.26</text>
<rect x="557.72" y="415.34" width="21.71" height="15.46" fill="#42468c"/>
<text x="568.45" y="424.95" font-size="5.8" text-anchor="middle" fill="#fff">0.20</text>
<rect x="579.18" y="415.34" width="21.71" height="15.46" fill="#482e7f"/>
<text x="589.91" y="424.95" font-size="5.8" text-anchor="middle" fill="#fff">0.13</text>
<rect x="536.26" y="430.56" width="21.71" height="15.46" fill="#42468c"/>
<text x="546.99" y="440.17" font-size="5.8" text-anchor="middle" fill="#fff">0.20</text>
<rect x="557.72" y="430.56" width="21.71" height="15.46" fill="#463582"/>
<text x="568.45" y="440.17" font-size="5.8" text-anchor="middle" fill="#fff">0.15</text>
<rect x="579.18" y="430.56" width="21.71" height="15.46" fill="#443f88"/>
<text x="589.91" y="440.17" font-size="5.8" text-anchor="middle" fill="#fff">0.18</text>
<rect x="536.26" y="445.77" width="21.71" height="15.46" fill="#443c86"/>
<text x="546.99" y="455.38" font-size="5.8" text-anchor="middle" fill="#fff">0.17</text>
<rect x="557.72" y="445.77" width="21.71" height="15.46" fill="#463582"/>
<text x="568.45" y="455.38" font-size="5.8" text-anchor="middle" fill="#fff">0.15</text>
<rect x="579.18" y="445.77" width="21.71" height="15.46" fill="#463582"/>
<text x="589.91" y="455.38" font-size="5.8" text-anchor="middle" fill="#fff">0.15</text>
<rect x="600.64" y="460.99" width="21.71" height="15.46" fill="#43438a"/>
<text x="611.37" y="470.59" font-size="5.8" text-anchor="middle" fill="#fff">0.19</text>
<rect x="514.80" y="369.70" width="107.30" height="106.50" fill="none" stroke="#000" stroke-width="1.1"/>
<text x="568.45" y="355.65" font-size="10.3" font-weight="bold" text-anchor="middle">BLK normalized to ACC1</text>
<line x1="525.53" y1="476.20" x2="525.53" y2="480.40" stroke="#000" stroke-width="1.1"/>
<text transform="translate(527.73,487.80) rotate(-45)" font-size="8" font-weight="bold" text-anchor="end">1 min</text>
<line x1="546.99" y1="476.20" x2="546.99" y2="480.40" stroke="#000" stroke-width="1.1"/>
<text transform="translate(549.19,487.80) rotate(-45)" font-size="8" font-weight="bold" text-anchor="end">2 min</text>
<line x1="568.45" y1="476.20" x2="568.45" y2="480.40" stroke="#000" stroke-width="1.1"/>
<text transform="translate(570.65,487.80) rotate(-45)" font-size="8" font-weight="bold" text-anchor="end">4 min</text>
<line x1="589.91" y1="476.20" x2="589.91" y2="480.40" stroke="#000" stroke-width="1.1"/>
<text transform="translate(592.11,487.80) rotate(-45)" font-size="8" font-weight="bold" text-anchor="end">6 min</text>
<line x1="611.37" y1="476.20" x2="611.37" y2="480.40" stroke="#000" stroke-width="1.1"/>
<text transform="translate(613.57,487.80) rotate(-45)" font-size="8" font-weight="bold" text-anchor="end">1 hr</text>
<line x1="236.60" y1="377.31" x2="241.70" y2="377.31" stroke="#000" stroke-width="1.1"/>
<text x="235.40" y="380.07" font-size="8" font-weight="bold" text-anchor="end">0 nM</text>
<line x1="236.60" y1="392.52" x2="241.70" y2="392.52" stroke="#000" stroke-width="1.1"/>
<text x="235.40" y="395.28" font-size="8" font-weight="bold" text-anchor="end">12.5 nM</text>
<line x1="236.60" y1="407.74" x2="241.70" y2="407.74" stroke="#000" stroke-width="1.1"/>
<text x="235.40" y="410.50" font-size="8" font-weight="bold" text-anchor="end">25 nM</text>
<line x1="236.60" y1="422.95" x2="241.70" y2="422.95" stroke="#000" stroke-width="1.1"/>
<text x="235.40" y="425.71" font-size="8" font-weight="bold" text-anchor="end">50 nM</text>
<line x1="236.60" y1="438.16" x2="241.70" y2="438.16" stroke="#000" stroke-width="1.1"/>
<text x="235.40" y="440.92" font-size="8" font-weight="bold" text-anchor="end">100 nM</text>
<line x1="236.60" y1="453.38" x2="241.70" y2="453.38" stroke="#000" stroke-width="1.1"/>
<text x="235.40" y="456.14" font-size="8" font-weight="bold" text-anchor="end">200 nM</text>
<line x1="236.60" y1="468.59" x2="241.70" y2="468.59" stroke="#000" stroke-width="1.1"/>
<text x="235.40" y="471.35" font-size="8" font-weight="bold" text-anchor="end">5000 nM</text>
<defs><linearGradient id="vg" x1="0" y1="1" x2="0" y2="0"><stop offset="0.0" stop-color="#440154"/><stop offset="0.1" stop-color="#4a2479"/><stop offset="0.2" stop-color="#42468c"/><stop offset="0.3" stop-color="#3e6a96"/><stop offset="0.4" stop-color="#3f8190"/><stop offset="0.5" stop-color="#4aa08c"/><stop offset="0.6" stop-color="#4fb88b"/><stop offset="0.7" stop-color="#5fd27a"/><stop offset="0.8" stop-color="#80e45a"/><stop offset="0.9" stop-color="#b8ec46"/><stop offset="1.0" stop-color="#eef03a"/></linearGradient></defs>
<rect x="635.6" y="369.7" width="13.3" height="106.6" fill="url(#vg)" stroke="#000" stroke-width="1.1"/>
<text x="653.80" y="479.23" font-size="8.5" fill="#111">0</text>
<line x1="646.50" y1="454.98" x2="648.90" y2="454.98" stroke="#000" stroke-width="1.1"/>
<line x1="635.60" y1="454.98" x2="638.00" y2="454.98" stroke="#000" stroke-width="1.1"/>
<text x="653.80" y="457.91" font-size="8.5" fill="#111">0.2</text>
<line x1="646.50" y1="433.66" x2="648.90" y2="433.66" stroke="#000" stroke-width="1.1"/>
<line x1="635.60" y1="433.66" x2="638.00" y2="433.66" stroke="#000" stroke-width="1.1"/>
<text x="653.80" y="436.59" font-size="8.5" fill="#111">0.4</text>
<line x1="646.50" y1="412.34" x2="648.90" y2="412.34" stroke="#000" stroke-width="1.1"/>
<line x1="635.60" y1="412.34" x2="638.00" y2="412.34" stroke="#000" stroke-width="1.1"/>
<text x="653.80" y="415.27" font-size="8.5" fill="#111">0.6</text>
<line x1="646.50" y1="391.02" x2="648.90" y2="391.02" stroke="#000" stroke-width="1.1"/>
<line x1="635.60" y1="391.02" x2="638.00" y2="391.02" stroke="#000" stroke-width="1.1"/>
<text x="653.80" y="393.95" font-size="8.5" fill="#111">0.8</text>
<text x="653.80" y="372.63" font-size="8.5" fill="#111">1.0</text>
<text x="9.50" y="538.40" font-size="25" font-weight="bold">E</text>
<text x="105.70" y="533.29" font-size="11" font-weight="bold" text-anchor="middle">BTK IB occupancy</text>
<line x1="61.90" y1="543.90" x2="61.90" y2="624.90" stroke="#333" stroke-width="1.3"/>
<line x1="61.30" y1="624.30" x2="150.80" y2="624.30" stroke="#333" stroke-width="1.3"/>
<line x1="58.70" y1="624.30" x2="61.90" y2="624.30" stroke="#333" stroke-width="1.1"/>
<text x="58.10" y="626.47" font-size="6.3" font-weight="bold" text-anchor="end" fill="#333">0.0</text>
<line x1="58.70" y1="597.67" x2="61.90" y2="597.67" stroke="#333" stroke-width="1.1"/>
<text x="58.10" y="599.84" font-size="6.3" font-weight="bold" text-anchor="end" fill="#333">0.5</text>
<line x1="58.70" y1="571.03" x2="61.90" y2="571.03" stroke="#333" stroke-width="1.1"/>
<text x="58.10" y="573.21" font-size="6.3" font-weight="bold" text-anchor="end" fill="#333">1.0</text>
<line x1="58.70" y1="544.40" x2="61.90" y2="544.40" stroke="#333" stroke-width="1.1"/>
<text x="58.10" y="546.57" font-size="6.3" font-weight="bold" text-anchor="end" fill="#333">1.5</text>
<line x1="61.90" y1="624.30" x2="61.90" y2="627.50" stroke="#333" stroke-width="1.1"/>
<text x="61.90" y="634.77" font-size="6.3" font-weight="bold" text-anchor="middle" fill="#333">0</text>
<line x1="91.33" y1="624.30" x2="91.33" y2="627.50" stroke="#333" stroke-width="1.1"/>
<text x="91.33" y="634.77" font-size="6.3" font-weight="bold" text-anchor="middle" fill="#333">120</text>
<line x1="120.77" y1="624.30" x2="120.77" y2="627.50" stroke="#333" stroke-width="1.1"/>
<text x="120.77" y="634.77" font-size="6.3" font-weight="bold" text-anchor="middle" fill="#333">240</text>
<line x1="150.20" y1="624.30" x2="150.20" y2="627.50" stroke="#333" stroke-width="1.1"/>
<text x="150.20" y="634.77" font-size="6.3" font-weight="bold" text-anchor="middle" fill="#333">360</text>
<text x="106.05" y="646.67" font-size="8.9" font-weight="bold" text-anchor="middle">Time (s)</text>
<text transform="translate(45.10,584.30) rotate(-90)" font-size="9.3" font-weight="bold" text-anchor="middle">Occupancy</text>
<path d="M61.90,624.30 L62.64,623.74 L63.37,623.19 L64.11,622.65 L64.84,622.11 L65.58,621.58 L66.31,621.05 L67.05,620.53 L67.79,620.01 L68.52,619.50 L69.26,618.99 L69.99,618.49 L70.73,617.99 L71.47,617.50 L72.20,617.02 L72.94,616.54 L73.67,616.06 L74.41,615.59 L75.14,615.13 L75.88,614.67 L76.62,614.21 L77.35,613.76 L78.09,613.31 L78.82,612.87 L79.56,612.43 L80.30,612.00 L81.03,611.57 L81.77,611.15 L82.50,610.73 L83.24,610.32 L83.97,609.91 L84.71,609.50 L85.45,609.10 L86.18,608.70 L86.92,608.31 L87.65,607.92 L88.39,607.53 L89.13,607.15 L89.86,606.77 L90.60,606.40 L91.33,606.03 L92.07,605.67 L92.80,605.30 L93.54,604.95 L94.28,604.59 L95.01,604.24 L95.75,603.90 L96.48,603.55 L97.22,603.21 L97.96,602.88 L98.69,602.54 L99.43,602.21 L100.16,601.89 L100.90,601.57 L101.63,601.25 L102.37,600.93 L103.11,600.62 L103.84,600.31 L104.58,600.00 L105.31,599.70 L106.05,599.40 L106.79,599.11 L107.52,598.81 L108.26,598.52 L108.99,598.24 L109.73,597.95 L110.46,597.67 L111.20,597.39 L111.94,597.12 L112.67,596.84 L113.41,596.57 L114.14,596.31 L114.88,596.04 L115.62,595.78 L116.35,595.52 L117.09,595.27 L117.82,595.02 L118.56,594.77 L119.29,594.52 L120.03,594.27 L120.77,594.03 L121.50,593.79 L122.24,593.55 L122.97,593.32 L123.71,593.08 L124.45,592.85 L125.18,592.63 L125.92,592.40 L126.65,592.18 L127.39,591.96 L128.12,591.74 L128.86,591.52 L129.60,591.31 L130.33,591.09 L131.07,590.89 L131.80,590.68 L132.54,590.47 L133.28,590.27 L134.01,590.07 L134.75,589.87 L135.48,589.67 L136.22,589.48 L136.95,589.29 L137.69,589.10 L138.43,588.91 L139.16,588.72 L139.90,588.54 L140.63,588.35 L141.37,588.17 L142.11,587.99 L142.84,587.82 L143.58,587.64 L144.31,587.47 L145.05,587.30 L145.78,587.13 L146.52,586.96 L147.26,586.79 L147.99,586.63 L148.73,586.46 L149.46,586.30 L150.20,586.14" fill="none" stroke="#8a7ae0" stroke-width="0.7"/>
<path d="M61.90,624.30 L62.64,623.35 L63.37,622.42 L64.11,621.50 L64.84,620.61 L65.58,619.72 L66.31,618.86 L67.05,618.00 L67.79,617.17 L68.52,616.35 L69.26,615.54 L69.99,614.75 L70.73,613.97 L71.47,613.20 L72.20,612.45 L72.94,611.71 L73.67,610.99 L74.41,610.28 L75.14,609.58 L75.88,608.89 L76.62,608.22 L77.35,607.56 L78.09,606.91 L78.82,606.27 L79.56,605.64 L80.30,605.02 L81.03,604.42 L81.77,603.82 L82.50,603.24 L83.24,602.67 L83.97,602.10 L84.71,601.55 L85.45,601.01 L86.18,600.47 L86.92,599.95 L87.65,599.43 L88.39,598.93 L89.13,598.43 L89.86,597.94 L90.60,597.46 L91.33,596.99 L92.07,596.53 L92.80,596.08 L93.54,595.63 L94.28,595.19 L95.01,594.76 L95.75,594.34 L96.48,593.92 L97.22,593.52 L97.96,593.12 L98.69,592.72 L99.43,592.34 L100.16,591.96 L100.90,591.58 L101.63,591.22 L102.37,590.86 L103.11,590.51 L103.84,590.16 L104.58,589.82 L105.31,589.48 L106.05,589.16 L106.79,588.83 L107.52,588.52 L108.26,588.20 L108.99,587.90 L109.73,587.60 L110.46,587.30 L111.20,587.01 L111.94,586.73 L112.67,586.45 L113.41,586.17 L114.14,585.90 L114.88,585.64 L115.62,585.38 L116.35,585.12 L117.09,584.87 L117.82,584.63 L118.56,584.38 L119.29,584.15 L120.03,583.91 L120.77,583.68 L121.50,583.46 L122.24,583.24 L122.97,583.02 L123.71,582.81 L124.45,582.60 L125.18,582.39 L125.92,582.19 L126.65,581.99 L127.39,581.79 L128.12,581.60 L128.86,581.41 L129.60,581.23 L130.33,581.05 L131.07,580.87 L131.80,580.69 L132.54,580.52 L133.28,580.35 L134.01,580.19 L134.75,580.02 L135.48,579.86 L136.22,579.71 L136.95,579.55 L137.69,579.40 L138.43,579.25 L139.16,579.11 L139.90,578.96 L140.63,578.82 L141.37,578.68 L142.11,578.55 L142.84,578.41 L143.58,578.28 L144.31,578.15 L145.05,578.02 L145.78,577.90 L146.52,577.78 L147.26,577.66 L147.99,577.54 L148.73,577.42 L149.46,577.31 L150.20,577.20" fill="none" stroke="#ee8cf0" stroke-width="0.7"/>
<path d="M61.90,624.30 L62.64,622.39 L63.37,620.54 L64.11,618.76 L64.84,617.05 L65.58,615.39 L66.31,613.80 L67.05,612.26 L67.79,610.78 L68.52,609.35 L69.26,607.97 L69.99,606.65 L70.73,605.37 L71.47,604.13 L72.20,602.94 L72.94,601.80 L73.67,600.69 L74.41,599.62 L75.14,598.60 L75.88,597.61 L76.62,596.65 L77.35,595.73 L78.09,594.84 L78.82,593.99 L79.56,593.16 L80.30,592.37 L81.03,591.60 L81.77,590.86 L82.50,590.15 L83.24,589.46 L83.97,588.80 L84.71,588.16 L85.45,587.55 L86.18,586.95 L86.92,586.38 L87.65,585.83 L88.39,585.30 L89.13,584.78 L89.86,584.29 L90.60,583.81 L91.33,583.35 L92.07,582.91 L92.80,582.48 L93.54,582.07 L94.28,581.68 L95.01,581.29 L95.75,580.93 L96.48,580.57 L97.22,580.23 L97.96,579.90 L98.69,579.58 L99.43,579.27 L100.16,578.97 L100.90,578.69 L101.63,578.41 L102.37,578.15 L103.11,577.89 L103.84,577.65 L104.58,577.41 L105.31,577.18 L106.05,576.96 L106.79,576.75 L107.52,576.54 L108.26,576.34 L108.99,576.15 L109.73,575.97 L110.46,575.79 L111.20,575.62 L111.94,575.45 L112.67,575.30 L113.41,575.14 L114.14,575.00 L114.88,574.85 L115.62,574.72 L116.35,574.58 L117.09,574.46 L117.82,574.33 L118.56,574.21 L119.29,574.10 L120.03,573.99 L120.77,573.88 L121.50,573.78 L122.24,573.68 L122.97,573.59 L123.71,573.50 L124.45,573.41 L125.18,573.32 L125.92,573.24 L126.65,573.16 L127.39,573.08 L128.12,573.01 L128.86,572.94 L129.60,572.87 L130.33,572.80 L131.07,572.74 L131.80,572.68 L132.54,572.62 L133.28,572.56 L134.01,572.51 L134.75,572.46 L135.48,572.40 L136.22,572.35 L136.95,572.31 L137.69,572.26 L138.43,572.22 L139.16,572.17 L139.90,572.13 L140.63,572.09 L141.37,572.06 L142.11,572.02 L142.84,571.98 L143.58,571.95 L144.31,571.92 L145.05,571.89 L145.78,571.85 L146.52,571.82 L147.26,571.80 L147.99,571.77 L148.73,571.74 L149.46,571.72 L150.20,571.69" fill="none" stroke="#b6ec8e" stroke-width="0.7"/>
<path d="M61.90,624.30 L62.64,620.41 L63.37,616.80 L64.11,613.45 L64.84,610.35 L65.58,607.48 L66.31,604.81 L67.05,602.35 L67.79,600.06 L68.52,597.94 L69.26,595.97 L69.99,594.15 L70.73,592.46 L71.47,590.89 L72.20,589.44 L72.94,588.09 L73.67,586.85 L74.41,585.69 L75.14,584.62 L75.88,583.63 L76.62,582.71 L77.35,581.85 L78.09,581.06 L78.82,580.33 L79.56,579.65 L80.30,579.02 L81.03,578.44 L81.77,577.90 L82.50,577.39 L83.24,576.93 L83.97,576.50 L84.71,576.10 L85.45,575.73 L86.18,575.39 L86.92,575.07 L87.65,574.77 L88.39,574.50 L89.13,574.25 L89.86,574.01 L90.60,573.79 L91.33,573.59 L92.07,573.40 L92.80,573.23 L93.54,573.07 L94.28,572.92 L95.01,572.78 L95.75,572.66 L96.48,572.54 L97.22,572.43 L97.96,572.33 L98.69,572.23 L99.43,572.14 L100.16,572.06 L100.90,571.99 L101.63,571.92 L102.37,571.85 L103.11,571.79 L103.84,571.74 L104.58,571.69 L105.31,571.64 L106.05,571.59 L106.79,571.55 L107.52,571.52 L108.26,571.48 L108.99,571.45 L109.73,571.42 L110.46,571.39 L111.20,571.36 L111.94,571.34 L112.67,571.32 L113.41,571.30 L114.14,571.28 L114.88,571.26 L115.62,571.24 L116.35,571.23 L117.09,571.21 L117.82,571.20 L118.56,571.19 L119.29,571.18 L120.03,571.17 L120.77,571.16 L121.50,571.15 L122.24,571.14 L122.97,571.13 L123.71,571.12 L124.45,571.12 L125.18,571.11 L125.92,571.11 L126.65,571.10 L127.39,571.10 L128.12,571.09 L128.86,571.09 L129.60,571.08 L130.33,571.08 L131.07,571.08 L131.80,571.07 L132.54,571.07 L133.28,571.07 L134.01,571.06 L134.75,571.06 L135.48,571.06 L136.22,571.06 L136.95,571.06 L137.69,571.05 L138.43,571.05 L139.16,571.05 L139.90,571.05 L140.63,571.05 L141.37,571.05 L142.11,571.05 L142.84,571.05 L143.58,571.05 L144.31,571.04 L145.05,571.04 L145.78,571.04 L146.52,571.04 L147.26,571.04 L147.99,571.04 L148.73,571.04 L149.46,571.04 L150.20,571.04" fill="none" stroke="#4aa6c4" stroke-width="0.7"/>
<path d="M61.90,624.30 L62.64,621.17 L63.37,618.22 L64.11,615.45 L64.84,612.83 L65.58,610.38 L66.31,608.06 L67.05,605.89 L67.79,603.84 L68.52,601.91 L69.26,600.09 L69.99,598.38 L70.73,596.77 L71.47,595.26 L72.20,593.84 L72.94,592.50 L73.67,591.23 L74.41,590.05 L75.14,588.93 L75.88,587.88 L76.62,586.89 L77.35,585.95 L78.09,585.08 L78.82,584.25 L79.56,583.47 L80.30,582.74 L81.03,582.05 L81.77,581.41 L82.50,580.80 L83.24,580.22 L83.97,579.68 L84.71,579.17 L85.45,578.69 L86.18,578.24 L86.92,577.82 L87.65,577.42 L88.39,577.05 L89.13,576.69 L89.86,576.36 L90.60,576.05 L91.33,575.75 L92.07,575.47 L92.80,575.21 L93.54,574.97 L94.28,574.74 L95.01,574.52 L95.75,574.31 L96.48,574.12 L97.22,573.94 L97.96,573.77 L98.69,573.61 L99.43,573.46 L100.16,573.31 L100.90,573.18 L101.63,573.05 L102.37,572.93 L103.11,572.82 L103.84,572.72 L104.58,572.62 L105.31,572.53 L106.05,572.44 L106.79,572.35 L107.52,572.28 L108.26,572.20 L108.99,572.14 L109.73,572.07 L110.46,572.01 L111.20,571.95 L111.94,571.90 L112.67,571.85 L113.41,571.80 L114.14,571.75 L114.88,571.71 L115.62,571.67 L116.35,571.63 L117.09,571.60 L117.82,571.57 L118.56,571.53 L119.29,571.50 L120.03,571.48 L120.77,571.45 L121.50,571.43 L122.24,571.40 L122.97,571.38 L123.71,571.36 L124.45,571.34 L125.18,571.32 L125.92,571.31 L126.65,571.29 L127.39,571.28 L128.12,571.26 L128.86,571.25 L129.60,571.24 L130.33,571.22 L131.07,571.21 L131.80,571.20 L132.54,571.19 L133.28,571.18 L134.01,571.17 L134.75,571.17 L135.48,571.16 L136.22,571.15 L136.95,571.14 L137.69,571.14 L138.43,571.13 L139.16,571.13 L139.90,571.12 L140.63,571.11 L141.37,571.11 L142.11,571.11 L142.84,571.10 L143.58,571.10 L144.31,571.09 L145.05,571.09 L145.78,571.09 L146.52,571.08 L147.26,571.08 L147.99,571.08 L148.73,571.08 L149.46,571.07 L150.20,571.07" fill="none" stroke="#4a3d80" stroke-width="0.7"/>
<circle cx="120.77" cy="571.03" r="2.10" fill="#3b2d72" stroke="#555" stroke-width="0.4"/>
<circle cx="150.20" cy="571.03" r="2.10" fill="#3b2d72" stroke="#555" stroke-width="0.4"/>
<path d="M91.33,571.86 L93.33,573.96 L91.33,576.06 L89.33,573.96Z" fill="#3d9bbd"/>
<path d="M120.77,568.93 L122.77,571.03 L120.77,573.13 L118.77,571.03Z" fill="#3d9bbd"/>
<path d="M150.20,568.93 L152.20,571.03 L150.20,573.13 L148.20,571.03Z" fill="#3d9bbd"/>
<path d="M91.33,585.05 L93.53,581.15 L89.13,581.15Z" fill="#c0f09a"/>
<path d="M120.77,577.06 L122.97,573.16 L118.57,573.16Z" fill="#c0f09a"/>
<path d="M150.20,574.40 L152.40,570.50 L148.00,570.50Z" fill="#c0f09a"/>
<path d="M91.33,593.24 L93.53,597.14 L89.13,597.14Z" fill="#ef90f2"/>
<path d="M120.77,582.85 L122.97,586.75 L118.57,586.75Z" fill="#ef90f2"/>
<path d="M150.20,576.46 L152.40,580.36 L148.00,580.36Z" fill="#ef90f2"/>
<rect x="89.43" y="597.90" width="3.80" height="3.80" fill="#9b7fe6"/>
<rect x="118.87" y="596.83" width="3.80" height="3.80" fill="#9b7fe6"/>
<rect x="148.30" y="585.65" width="3.80" height="3.80" fill="#9b7fe6"/>
<line x1="168.20" y1="549.30" x2="177.80" y2="549.30" stroke="#8a7ae0" stroke-width="0.8"/>
<rect x="171.10" y="547.40" width="3.80" height="3.80" fill="#9b7fe6"/>
<text x="181.80" y="551.78" font-size="7.2" fill="#222">12.5 nM</text>
<line x1="168.20" y1="560.10" x2="177.80" y2="560.10" stroke="#ee8cf0" stroke-width="0.8"/>
<path d="M173.00,557.80 L175.20,561.70 L170.80,561.70Z" fill="#ef90f2"/>
<text x="181.80" y="562.58" font-size="7.2" fill="#222">25 nM</text>
<line x1="168.20" y1="570.90" x2="177.80" y2="570.90" stroke="#b6ec8e" stroke-width="0.8"/>
<path d="M173.00,573.20 L175.20,569.30 L170.80,569.30Z" fill="#c0f09a"/>
<text x="181.80" y="573.38" font-size="7.2" fill="#222">50 nM</text>
<line x1="168.20" y1="581.70" x2="177.80" y2="581.70" stroke="#4aa6c4" stroke-width="0.8"/>
<path d="M173.00,579.60 L175.00,581.70 L173.00,583.80 L171.00,581.70Z" fill="#3d9bbd"/>
<text x="181.80" y="584.18" font-size="7.2" fill="#222">100 nM</text>
<line x1="168.20" y1="592.50" x2="177.80" y2="592.50" stroke="#4a3d80" stroke-width="0.8"/>
<circle cx="173.00" cy="592.50" r="2.10" fill="#3b2d72" stroke="#555" stroke-width="0.4"/>
<text x="181.80" y="594.98" font-size="7.2" fill="#222">200 nM</text>
<rect x="17.70" y="652.4" width="189.40" height="16.9" fill="none" stroke="#555" stroke-width="0.8"/>
<line x1="17.70" y1="660.50" x2="207.10" y2="660.50" stroke="#555" stroke-width="0.8"/>
<text x="68.84" y="657.95" font-size="6.8" text-anchor="middle" fill="#222">12.5 nM</text>
<text x="69.69" y="666.55" font-size="6.8" text-anchor="middle" fill="#222">0.00350</text>
<text x="99.99" y="657.95" font-size="6.8" text-anchor="middle" fill="#222">25 nM</text>
<text x="101.30" y="666.55" font-size="6.8" text-anchor="middle" fill="#222">0.00599</text>
<text x="131.97" y="657.95" font-size="6.8" text-anchor="middle" fill="#222">50 nM</text>
<text x="127.80" y="666.55" font-size="6.8" text-anchor="middle" fill="#222">0.0122</text>
<text x="161.27" y="657.95" font-size="6.8" text-anchor="middle" fill="#222">100 nM</text>
<text x="158.99" y="666.55" font-size="6.8" text-anchor="middle" fill="#222">0.0253</text>
<text x="192.90" y="657.95" font-size="6.8" text-anchor="middle" fill="#222">200 nM</text>
<text x="191.30" y="666.55" font-size="6.8" text-anchor="middle" fill="#222">0.0202</text>
<text x="39.59" y="666.55" font-size="6.8" text-anchor="middle" fill="#222">k_obs</text>
<text x="334.55" y="533.29" font-size="11" font-weight="bold" text-anchor="middle">TEC IB occupancy</text>
<line x1="290.70" y1="543.90" x2="290.70" y2="625.10" stroke="#333" stroke-width="1.3"/>
<line x1="290.10" y1="624.50" x2="379.20" y2="624.50" stroke="#333" stroke-width="1.3"/>
<line x1="287.50" y1="624.50" x2="290.70" y2="624.50" stroke="#333" stroke-width="1.1"/>
<text x="286.90" y="626.67" font-size="6.3" font-weight="bold" text-anchor="end" fill="#333">0.0</text>
<line x1="287.50" y1="597.80" x2="290.70" y2="597.80" stroke="#333" stroke-width="1.1"/>
<text x="286.90" y="599.97" font-size="6.3" font-weight="bold" text-anchor="end" fill="#333">0.5</text>
<line x1="287.50" y1="571.10" x2="290.70" y2="571.10" stroke="#333" stroke-width="1.1"/>
<text x="286.90" y="573.27" font-size="6.3" font-weight="bold" text-anchor="end" fill="#333">1.0</text>
<line x1="287.50" y1="544.40" x2="290.70" y2="544.40" stroke="#333" stroke-width="1.1"/>
<text x="286.90" y="546.57" font-size="6.3" font-weight="bold" text-anchor="end" fill="#333">1.5</text>
<line x1="290.70" y1="624.50" x2="290.70" y2="627.70" stroke="#333" stroke-width="1.1"/>
<text x="290.70" y="634.97" font-size="6.3" font-weight="bold" text-anchor="middle" fill="#333">0</text>
<line x1="320.00" y1="624.50" x2="320.00" y2="627.70" stroke="#333" stroke-width="1.1"/>
<text x="320.00" y="634.97" font-size="6.3" font-weight="bold" text-anchor="middle" fill="#333">120</text>
<line x1="349.30" y1="624.50" x2="349.30" y2="627.70" stroke="#333" stroke-width="1.1"/>
<text x="349.30" y="634.97" font-size="6.3" font-weight="bold" text-anchor="middle" fill="#333">240</text>
<line x1="378.60" y1="624.50" x2="378.60" y2="627.70" stroke="#333" stroke-width="1.1"/>
<text x="378.60" y="634.97" font-size="6.3" font-weight="bold" text-anchor="middle" fill="#333">360</text>
<text x="334.65" y="646.87" font-size="8.9" font-weight="bold" text-anchor="middle">Time (s)</text>
<text transform="translate(273.90,584.50) rotate(-90)" font-size="9.3" font-weight="bold" text-anchor="middle">Occupancy</text>
<path d="M290.70,624.50 L291.43,624.13 L292.16,623.77 L292.90,623.41 L293.63,623.05 L294.36,622.70 L295.09,622.34 L295.83,621.99 L296.56,621.64 L297.29,621.30 L298.02,620.95 L298.76,620.61 L299.49,620.27 L300.22,619.94 L300.95,619.60 L301.69,619.27 L302.42,618.94 L303.15,618.61 L303.88,618.29 L304.62,617.97 L305.35,617.64 L306.08,617.33 L306.81,617.01 L307.55,616.70 L308.28,616.38 L309.01,616.07 L309.75,615.77 L310.48,615.46 L311.21,615.16 L311.94,614.85 L312.68,614.55 L313.41,614.26 L314.14,613.96 L314.87,613.67 L315.61,613.38 L316.34,613.09 L317.07,612.80 L317.80,612.51 L318.54,612.23 L319.27,611.95 L320.00,611.67 L320.73,611.39 L321.46,611.12 L322.20,610.84 L322.93,610.57 L323.66,610.30 L324.39,610.03 L325.13,609.76 L325.86,609.50 L326.59,609.24 L327.32,608.98 L328.06,608.72 L328.79,608.46 L329.52,608.20 L330.25,607.95 L330.99,607.70 L331.72,607.45 L332.45,607.20 L333.19,606.95 L333.92,606.70 L334.65,606.46 L335.38,606.22 L336.12,605.98 L336.85,605.74 L337.58,605.50 L338.31,605.27 L339.05,605.03 L339.78,604.80 L340.51,604.57 L341.24,604.34 L341.98,604.11 L342.71,603.89 L343.44,603.66 L344.17,603.44 L344.91,603.22 L345.64,603.00 L346.37,602.78 L347.10,602.56 L347.84,602.35 L348.57,602.13 L349.30,601.92 L350.03,601.71 L350.76,601.50 L351.50,601.29 L352.23,601.09 L352.96,600.88 L353.69,600.68 L354.43,600.47 L355.16,600.27 L355.89,600.07 L356.62,599.88 L357.36,599.68 L358.09,599.48 L358.82,599.29 L359.56,599.10 L360.29,598.90 L361.02,598.71 L361.75,598.52 L362.49,598.34 L363.22,598.15 L363.95,597.96 L364.68,597.78 L365.42,597.60 L366.15,597.42 L366.88,597.24 L367.61,597.06 L368.35,596.88 L369.08,596.70 L369.81,596.53 L370.54,596.35 L371.28,596.18 L372.01,596.01 L372.74,595.84 L373.47,595.67 L374.21,595.50 L374.94,595.33 L375.67,595.17 L376.40,595.00 L377.13,594.84 L377.87,594.68 L378.60,594.52" fill="none" stroke="#8a7ae0" stroke-width="0.7"/>
<path d="M290.70,624.50 L291.43,623.72 L292.16,622.96 L292.90,622.21 L293.63,621.46 L294.36,620.73 L295.09,620.01 L295.83,619.30 L296.56,618.60 L297.29,617.91 L298.02,617.23 L298.76,616.56 L299.49,615.90 L300.22,615.25 L300.95,614.60 L301.69,613.97 L302.42,613.35 L303.15,612.73 L303.88,612.13 L304.62,611.53 L305.35,610.95 L306.08,610.37 L306.81,609.80 L307.55,609.23 L308.28,608.68 L309.01,608.13 L309.75,607.59 L310.48,607.06 L311.21,606.54 L311.94,606.03 L312.68,605.52 L313.41,605.02 L314.14,604.53 L314.87,604.04 L315.61,603.56 L316.34,603.09 L317.07,602.62 L317.80,602.17 L318.54,601.72 L319.27,601.27 L320.00,600.83 L320.73,600.40 L321.46,599.97 L322.20,599.55 L322.93,599.14 L323.66,598.73 L324.39,598.33 L325.13,597.94 L325.86,597.55 L326.59,597.16 L327.32,596.78 L328.06,596.41 L328.79,596.04 L329.52,595.68 L330.25,595.32 L330.99,594.97 L331.72,594.62 L332.45,594.28 L333.19,593.94 L333.92,593.61 L334.65,593.28 L335.38,592.96 L336.12,592.64 L336.85,592.33 L337.58,592.02 L338.31,591.72 L339.05,591.42 L339.78,591.12 L340.51,590.83 L341.24,590.55 L341.98,590.26 L342.71,589.99 L343.44,589.71 L344.17,589.44 L344.91,589.17 L345.64,588.91 L346.37,588.65 L347.10,588.40 L347.84,588.15 L348.57,587.90 L349.30,587.65 L350.03,587.41 L350.76,587.18 L351.50,586.94 L352.23,586.71 L352.96,586.49 L353.69,586.26 L354.43,586.04 L355.16,585.82 L355.89,585.61 L356.62,585.40 L357.36,585.19 L358.09,584.99 L358.82,584.78 L359.56,584.59 L360.29,584.39 L361.02,584.20 L361.75,584.01 L362.49,583.82 L363.22,583.63 L363.95,583.45 L364.68,583.27 L365.42,583.10 L366.15,582.92 L366.88,582.75 L367.61,582.58 L368.35,582.41 L369.08,582.25 L369.81,582.09 L370.54,581.93 L371.28,581.77 L372.01,581.61 L372.74,581.46 L373.47,581.31 L374.21,581.16 L374.94,581.02 L375.67,580.87 L376.40,580.73 L377.13,580.59 L377.87,580.45 L378.60,580.32" fill="none" stroke="#ee8cf0" stroke-width="0.7"/>
<path d="M290.70,624.50 L291.43,622.89 L292.16,621.33 L292.90,619.82 L293.63,618.35 L294.36,616.92 L295.09,615.54 L295.83,614.20 L296.56,612.90 L297.29,611.64 L298.02,610.42 L298.76,609.24 L299.49,608.09 L300.22,606.97 L300.95,605.89 L301.69,604.84 L302.42,603.83 L303.15,602.84 L303.88,601.88 L304.62,600.96 L305.35,600.06 L306.08,599.18 L306.81,598.34 L307.55,597.52 L308.28,596.72 L309.01,595.95 L309.75,595.20 L310.48,594.47 L311.21,593.77 L311.94,593.09 L312.68,592.42 L313.41,591.78 L314.14,591.16 L314.87,590.55 L315.61,589.97 L316.34,589.40 L317.07,588.85 L317.80,588.31 L318.54,587.79 L319.27,587.29 L320.00,586.80 L320.73,586.33 L321.46,585.87 L322.20,585.43 L322.93,584.99 L323.66,584.57 L324.39,584.17 L325.13,583.77 L325.86,583.39 L326.59,583.02 L327.32,582.66 L328.06,582.31 L328.79,581.98 L329.52,581.65 L330.25,581.33 L330.99,581.02 L331.72,580.72 L332.45,580.43 L333.19,580.15 L333.92,579.88 L334.65,579.61 L335.38,579.36 L336.12,579.11 L336.85,578.87 L337.58,578.63 L338.31,578.41 L339.05,578.19 L339.78,577.97 L340.51,577.77 L341.24,577.57 L341.98,577.37 L342.71,577.18 L343.44,577.00 L344.17,576.82 L344.91,576.65 L345.64,576.48 L346.37,576.32 L347.10,576.16 L347.84,576.01 L348.57,575.86 L349.30,575.72 L350.03,575.58 L350.76,575.44 L351.50,575.31 L352.23,575.19 L352.96,575.06 L353.69,574.94 L354.43,574.83 L355.16,574.71 L355.89,574.61 L356.62,574.50 L357.36,574.40 L358.09,574.30 L358.82,574.20 L359.56,574.11 L360.29,574.02 L361.02,573.93 L361.75,573.84 L362.49,573.76 L363.22,573.68 L363.95,573.60 L364.68,573.53 L365.42,573.46 L366.15,573.38 L366.88,573.32 L367.61,573.25 L368.35,573.18 L369.08,573.12 L369.81,573.06 L370.54,573.00 L371.28,572.94 L372.01,572.89 L372.74,572.83 L373.47,572.78 L374.21,572.73 L374.94,572.68 L375.67,572.63 L376.40,572.59 L377.13,572.54 L377.87,572.50 L378.60,572.46" fill="none" stroke="#b6ec8e" stroke-width="0.7"/>
<path d="M290.70,624.50 L291.43,621.38 L292.16,618.43 L292.90,615.66 L293.63,613.06 L294.36,610.60 L295.09,608.29 L295.83,606.11 L296.56,604.06 L297.29,602.13 L298.02,600.32 L298.76,598.61 L299.49,597.00 L300.22,595.48 L300.95,594.06 L301.69,592.71 L302.42,591.45 L303.15,590.26 L303.88,589.14 L304.62,588.08 L305.35,587.09 L306.08,586.15 L306.81,585.27 L307.55,584.44 L308.28,583.66 L309.01,582.93 L309.75,582.23 L310.48,581.58 L311.21,580.97 L311.94,580.39 L312.68,579.85 L313.41,579.34 L314.14,578.85 L314.87,578.40 L315.61,577.97 L316.34,577.57 L317.07,577.19 L317.80,576.84 L318.54,576.50 L319.27,576.18 L320.00,575.89 L320.73,575.61 L321.46,575.34 L322.20,575.09 L322.93,574.86 L323.66,574.64 L324.39,574.43 L325.13,574.24 L325.86,574.05 L326.59,573.88 L327.32,573.72 L328.06,573.57 L328.79,573.42 L329.52,573.29 L330.25,573.16 L330.99,573.04 L331.72,572.92 L332.45,572.82 L333.19,572.72 L333.92,572.62 L334.65,572.53 L335.38,572.45 L336.12,572.37 L336.85,572.30 L337.58,572.23 L338.31,572.16 L339.05,572.10 L339.78,572.04 L340.51,571.98 L341.24,571.93 L341.98,571.88 L342.71,571.84 L343.44,571.80 L344.17,571.75 L344.91,571.72 L345.64,571.68 L346.37,571.65 L347.10,571.61 L347.84,571.58 L348.57,571.56 L349.30,571.53 L350.03,571.50 L350.76,571.48 L351.50,571.46 L352.23,571.44 L352.96,571.42 L353.69,571.40 L354.43,571.38 L355.16,571.36 L355.89,571.35 L356.62,571.33 L357.36,571.32 L358.09,571.31 L358.82,571.30 L359.56,571.28 L360.29,571.27 L361.02,571.26 L361.75,571.25 L362.49,571.24 L363.22,571.24 L363.95,571.23 L364.68,571.22 L365.42,571.21 L366.15,571.21 L366.88,571.20 L367.61,571.20 L368.35,571.19 L369.08,571.18 L369.81,571.18 L370.54,571.17 L371.28,571.17 L372.01,571.17 L372.74,571.16 L373.47,571.16 L374.21,571.16 L374.94,571.15 L375.67,571.15 L376.40,571.15 L377.13,571.14 L377.87,571.14 L378.60,571.14" fill="none" stroke="#4aa6c4" stroke-width="0.7"/>
<path d="M290.70,624.50 L291.43,619.83 L292.16,615.57 L292.90,611.68 L293.63,608.13 L294.36,604.89 L295.09,601.94 L295.83,599.24 L296.56,596.78 L297.29,594.54 L298.02,592.49 L298.76,590.62 L299.49,588.91 L300.22,587.35 L300.95,585.93 L301.69,584.64 L302.42,583.45 L303.15,582.37 L303.88,581.39 L304.62,580.49 L305.35,579.67 L306.08,578.92 L306.81,578.23 L307.55,577.61 L308.28,577.04 L309.01,576.52 L309.75,576.05 L310.48,575.61 L311.21,575.22 L311.94,574.86 L312.68,574.53 L313.41,574.23 L314.14,573.96 L314.87,573.71 L315.61,573.48 L316.34,573.27 L317.07,573.08 L317.80,572.91 L318.54,572.75 L319.27,572.61 L320.00,572.47 L320.73,572.35 L321.46,572.24 L322.20,572.14 L322.93,572.05 L323.66,571.97 L324.39,571.89 L325.13,571.82 L325.86,571.76 L326.59,571.70 L327.32,571.65 L328.06,571.60 L328.79,571.56 L329.52,571.52 L330.25,571.48 L330.99,571.45 L331.72,571.42 L332.45,571.39 L333.19,571.36 L333.92,571.34 L334.65,571.32 L335.38,571.30 L336.12,571.28 L336.85,571.27 L337.58,571.25 L338.31,571.24 L339.05,571.23 L339.78,571.22 L340.51,571.21 L341.24,571.20 L341.98,571.19 L342.71,571.18 L343.44,571.17 L344.17,571.17 L344.91,571.16 L345.64,571.16 L346.37,571.15 L347.10,571.15 L347.84,571.14 L348.57,571.14 L349.30,571.14 L350.03,571.13 L350.76,571.13 L351.50,571.13 L352.23,571.12 L352.96,571.12 L353.69,571.12 L354.43,571.12 L355.16,571.12 L355.89,571.12 L356.62,571.11 L357.36,571.11 L358.09,571.11 L358.82,571.11 L359.56,571.11 L360.29,571.11 L361.02,571.11 L361.75,571.11 L362.49,571.11 L363.22,571.11 L363.95,571.11 L364.68,571.11 L365.42,571.10 L366.15,571.10 L366.88,571.10 L367.61,571.10 L368.35,571.10 L369.08,571.10 L369.81,571.10 L370.54,571.10 L371.28,571.10 L372.01,571.10 L372.74,571.10 L373.47,571.10 L374.21,571.10 L374.94,571.10 L375.67,571.10 L376.40,571.10 L377.13,571.10 L377.87,571.10 L378.60,571.10" fill="none" stroke="#4a3d80" stroke-width="0.7"/>
<circle cx="320.00" cy="572.17" r="2.10" fill="#3b2d72" stroke="#555" stroke-width="0.4"/>
<circle cx="349.30" cy="572.70" r="2.10" fill="#3b2d72" stroke="#555" stroke-width="0.4"/>
<circle cx="378.60" cy="571.10" r="2.10" fill="#3b2d72" stroke="#555" stroke-width="0.4"/>
<path d="M320.00,573.81 L322.00,575.91 L320.00,578.01 L318.00,575.91Z" fill="#3d9bbd"/>
<path d="M349.30,569.53 L351.30,571.63 L349.30,573.73 L347.30,571.63Z" fill="#3d9bbd"/>
<path d="M378.60,569.00 L380.60,571.10 L378.60,573.20 L376.60,571.10Z" fill="#3d9bbd"/>
<path d="M320.00,586.75 L322.20,582.85 L317.80,582.85Z" fill="#c0f09a"/>
<path d="M349.30,581.41 L351.50,577.51 L347.10,577.51Z" fill="#c0f09a"/>
<path d="M378.60,575.00 L380.80,571.10 L376.40,571.10Z" fill="#c0f09a"/>
<path d="M320.00,598.17 L322.20,602.07 L317.80,602.07Z" fill="#ef90f2"/>
<path d="M349.30,585.89 L351.50,589.79 L347.10,589.79Z" fill="#ef90f2"/>
<path d="M378.60,578.95 L380.80,582.85 L376.40,582.85Z" fill="#ef90f2"/>
<rect x="318.10" y="607.38" width="3.80" height="3.80" fill="#9b7fe6"/>
<rect x="347.40" y="601.77" width="3.80" height="3.80" fill="#9b7fe6"/>
<rect x="376.70" y="592.16" width="3.80" height="3.80" fill="#9b7fe6"/>
<line x1="396.40" y1="549.30" x2="406.00" y2="549.30" stroke="#8a7ae0" stroke-width="0.8"/>
<rect x="399.30" y="547.40" width="3.80" height="3.80" fill="#9b7fe6"/>
<text x="410.40" y="551.78" font-size="7.2" fill="#222">12.5 nM</text>
<line x1="396.40" y1="560.10" x2="406.00" y2="560.10" stroke="#ee8cf0" stroke-width="0.8"/>
<path d="M401.20,557.80 L403.40,561.70 L399.00,561.70Z" fill="#ef90f2"/>
<text x="410.40" y="562.58" font-size="7.2" fill="#222">25 nM</text>
<line x1="396.40" y1="570.90" x2="406.00" y2="570.90" stroke="#b6ec8e" stroke-width="0.8"/>
<path d="M401.20,573.20 L403.40,569.30 L399.00,569.30Z" fill="#c0f09a"/>
<text x="410.40" y="573.38" font-size="7.2" fill="#222">50 nM</text>
<line x1="396.40" y1="581.70" x2="406.00" y2="581.70" stroke="#4aa6c4" stroke-width="0.8"/>
<path d="M401.20,579.60 L403.20,581.70 L401.20,583.80 L399.20,581.70Z" fill="#3d9bbd"/>
<text x="410.40" y="584.18" font-size="7.2" fill="#222">100 nM</text>
<line x1="396.40" y1="592.50" x2="406.00" y2="592.50" stroke="#4a3d80" stroke-width="0.8"/>
<circle cx="401.20" cy="592.50" r="2.10" fill="#3b2d72" stroke="#555" stroke-width="0.4"/>
<text x="410.40" y="594.98" font-size="7.2" fill="#222">200 nM</text>
<rect x="245.80" y="652.4" width="189.40" height="16.9" fill="none" stroke="#555" stroke-width="0.8"/>
<line x1="245.80" y1="660.50" x2="435.20" y2="660.50" stroke="#555" stroke-width="0.8"/>
<text x="296.94" y="657.95" font-size="6.8" text-anchor="middle" fill="#222">12.5 nM</text>
<text x="297.79" y="666.55" font-size="6.8" text-anchor="middle" fill="#222">0.00229</text>
<text x="328.09" y="657.95" font-size="6.8" text-anchor="middle" fill="#222">25 nM</text>
<text x="329.40" y="666.55" font-size="6.8" text-anchor="middle" fill="#222">0.00488</text>
<text x="360.07" y="657.95" font-size="6.8" text-anchor="middle" fill="#222">50 nM</text>
<text x="355.90" y="666.55" font-size="6.8" text-anchor="middle" fill="#222">0.0102</text>
<text x="389.37" y="657.95" font-size="6.8" text-anchor="middle" fill="#222">100 nM</text>
<text x="387.09" y="666.55" font-size="6.8" text-anchor="middle" fill="#222">0.0201</text>
<text x="421.00" y="657.95" font-size="6.8" text-anchor="middle" fill="#222">200 nM</text>
<text x="419.40" y="666.55" font-size="6.8" text-anchor="middle" fill="#222">0.0305</text>
<text x="267.69" y="666.55" font-size="6.8" text-anchor="middle" fill="#222">k_obs</text>
<text x="557.75" y="533.29" font-size="11" font-weight="bold" text-anchor="middle">BLK IB occupancy</text>
<line x1="513.70" y1="544.10" x2="513.70" y2="625.10" stroke="#333" stroke-width="1.3"/>
<line x1="513.10" y1="624.50" x2="602.70" y2="624.50" stroke="#333" stroke-width="1.3"/>
<line x1="510.50" y1="624.50" x2="513.70" y2="624.50" stroke="#333" stroke-width="1.1"/>
<text x="509.90" y="626.67" font-size="6.3" font-weight="bold" text-anchor="end" fill="#333">0.0</text>
<line x1="510.50" y1="597.87" x2="513.70" y2="597.87" stroke="#333" stroke-width="1.1"/>
<text x="509.90" y="600.04" font-size="6.3" font-weight="bold" text-anchor="end" fill="#333">0.5</text>
<line x1="510.50" y1="571.23" x2="513.70" y2="571.23" stroke="#333" stroke-width="1.1"/>
<text x="509.90" y="573.41" font-size="6.3" font-weight="bold" text-anchor="end" fill="#333">1.0</text>
<line x1="510.50" y1="544.60" x2="513.70" y2="544.60" stroke="#333" stroke-width="1.1"/>
<text x="509.90" y="546.77" font-size="6.3" font-weight="bold" text-anchor="end" fill="#333">1.5</text>
<line x1="513.70" y1="624.50" x2="513.70" y2="627.70" stroke="#333" stroke-width="1.1"/>
<text x="513.70" y="634.97" font-size="6.3" font-weight="bold" text-anchor="middle" fill="#333">0</text>
<line x1="543.17" y1="624.50" x2="543.17" y2="627.70" stroke="#333" stroke-width="1.1"/>
<text x="543.17" y="634.97" font-size="6.3" font-weight="bold" text-anchor="middle" fill="#333">120</text>
<line x1="572.63" y1="624.50" x2="572.63" y2="627.70" stroke="#333" stroke-width="1.1"/>
<text x="572.63" y="634.97" font-size="6.3" font-weight="bold" text-anchor="middle" fill="#333">240</text>
<line x1="602.10" y1="624.50" x2="602.10" y2="627.70" stroke="#333" stroke-width="1.1"/>
<text x="602.10" y="634.97" font-size="6.3" font-weight="bold" text-anchor="middle" fill="#333">360</text>
<text x="557.90" y="646.87" font-size="8.9" font-weight="bold" text-anchor="middle">Time (s)</text>
<text transform="translate(496.90,584.50) rotate(-90)" font-size="9.3" font-weight="bold" text-anchor="middle">Occupancy</text>
<path d="M513.70,624.50 L514.44,622.68 L515.17,620.92 L515.91,619.22 L516.65,617.58 L517.38,615.99 L518.12,614.46 L518.86,612.98 L519.59,611.56 L520.33,610.18 L521.07,608.84 L521.80,607.56 L522.54,606.32 L523.28,605.12 L524.01,603.96 L524.75,602.84 L525.49,601.76 L526.22,600.71 L526.96,599.71 L527.70,598.73 L528.43,597.79 L529.17,596.88 L529.91,596.01 L530.64,595.16 L531.38,594.34 L532.12,593.55 L532.85,592.79 L533.59,592.05 L534.33,591.34 L535.06,590.65 L535.80,589.99 L536.54,589.34 L537.27,588.72 L538.01,588.13 L538.75,587.55 L539.48,586.99 L540.22,586.45 L540.96,585.93 L541.69,585.43 L542.43,584.94 L543.17,584.47 L543.90,584.02 L544.64,583.58 L545.38,583.16 L546.11,582.75 L546.85,582.36 L547.59,581.98 L548.32,581.61 L549.06,581.26 L549.80,580.91 L550.53,580.58 L551.27,580.26 L552.01,579.95 L552.74,579.66 L553.48,579.37 L554.22,579.09 L554.95,578.82 L555.69,578.56 L556.43,578.31 L557.16,578.07 L557.90,577.83 L558.64,577.61 L559.37,577.39 L560.11,577.18 L560.85,576.98 L561.58,576.78 L562.32,576.59 L563.06,576.41 L563.79,576.23 L564.53,576.06 L565.27,575.89 L566.00,575.74 L566.74,575.58 L567.48,575.43 L568.21,575.29 L568.95,575.15 L569.69,575.02 L570.42,574.89 L571.16,574.76 L571.90,574.64 L572.63,574.52 L573.37,574.41 L574.11,574.30 L574.84,574.20 L575.58,574.10 L576.32,574.00 L577.05,573.90 L577.79,573.81 L578.53,573.72 L579.26,573.64 L580.00,573.56 L580.74,573.48 L581.47,573.40 L582.21,573.33 L582.95,573.26 L583.68,573.19 L584.42,573.12 L585.16,573.05 L585.89,572.99 L586.63,572.93 L587.37,572.87 L588.10,572.82 L588.84,572.76 L589.58,572.71 L590.31,572.66 L591.05,572.61 L591.79,572.57 L592.52,572.52 L593.26,572.48 L594.00,572.43 L594.73,572.39 L595.47,572.35 L596.21,572.31 L596.94,572.28 L597.68,572.24 L598.42,572.21 L599.15,572.17 L599.89,572.14 L600.63,572.11 L601.36,572.08 L602.10,572.05" fill="none" stroke="#8a7ae0" stroke-width="0.7"/>
<path d="M513.70,624.50 L514.44,622.60 L515.17,620.77 L515.91,619.00 L516.65,617.30 L517.38,615.66 L518.12,614.07 L518.86,612.55 L519.59,611.07 L520.33,609.65 L521.07,608.28 L521.80,606.96 L522.54,605.69 L523.28,604.46 L524.01,603.28 L524.75,602.14 L525.49,601.03 L526.22,599.97 L526.96,598.95 L527.70,597.96 L528.43,597.01 L529.17,596.09 L529.91,595.20 L530.64,594.35 L531.38,593.52 L532.12,592.73 L532.85,591.96 L533.59,591.22 L534.33,590.51 L535.06,589.82 L535.80,589.16 L536.54,588.52 L537.27,587.91 L538.01,587.31 L538.75,586.74 L539.48,586.18 L540.22,585.65 L540.96,585.14 L541.69,584.64 L542.43,584.16 L543.17,583.70 L543.90,583.26 L544.64,582.83 L545.38,582.42 L546.11,582.02 L546.85,581.63 L547.59,581.26 L548.32,580.91 L549.06,580.56 L549.80,580.23 L550.53,579.91 L551.27,579.60 L552.01,579.30 L552.74,579.01 L553.48,578.73 L554.22,578.47 L554.95,578.21 L555.69,577.96 L556.43,577.72 L557.16,577.49 L557.90,577.27 L558.64,577.05 L559.37,576.84 L560.11,576.64 L560.85,576.45 L561.58,576.27 L562.32,576.09 L563.06,575.91 L563.79,575.75 L564.53,575.59 L565.27,575.43 L566.00,575.28 L566.74,575.14 L567.48,575.00 L568.21,574.86 L568.95,574.73 L569.69,574.61 L570.42,574.49 L571.16,574.37 L571.90,574.26 L572.63,574.15 L573.37,574.05 L574.11,573.95 L574.84,573.85 L575.58,573.76 L576.32,573.67 L577.05,573.58 L577.79,573.50 L578.53,573.42 L579.26,573.34 L580.00,573.26 L580.74,573.19 L581.47,573.12 L582.21,573.05 L582.95,572.99 L583.68,572.93 L584.42,572.87 L585.16,572.81 L585.89,572.75 L586.63,572.70 L587.37,572.65 L588.10,572.60 L588.84,572.55 L589.58,572.50 L590.31,572.45 L591.05,572.41 L591.79,572.37 L592.52,572.33 L593.26,572.29 L594.00,572.25 L594.73,572.22 L595.47,572.18 L596.21,572.15 L596.94,572.11 L597.68,572.08 L598.42,572.05 L599.15,572.02 L599.89,572.00 L600.63,571.97 L601.36,571.94 L602.10,571.92" fill="none" stroke="#ee8cf0" stroke-width="0.7"/>
<path d="M513.70,624.50 L514.44,622.25 L515.17,620.09 L515.91,618.03 L516.65,616.05 L517.38,614.15 L518.12,612.34 L518.86,610.60 L519.59,608.94 L520.33,607.34 L521.07,605.81 L521.80,604.35 L522.54,602.95 L523.28,601.61 L524.01,600.33 L524.75,599.10 L525.49,597.92 L526.22,596.79 L526.96,595.71 L527.70,594.67 L528.43,593.68 L529.17,592.73 L529.91,591.83 L530.64,590.95 L531.38,590.12 L532.12,589.32 L532.85,588.56 L533.59,587.83 L534.33,587.12 L535.06,586.45 L535.80,585.81 L536.54,585.19 L537.27,584.60 L538.01,584.04 L538.75,583.50 L539.48,582.98 L540.22,582.48 L540.96,582.00 L541.69,581.55 L542.43,581.11 L543.17,580.70 L543.90,580.30 L544.64,579.91 L545.38,579.55 L546.11,579.19 L546.85,578.86 L547.59,578.54 L548.32,578.23 L549.06,577.93 L549.80,577.65 L550.53,577.38 L551.27,577.12 L552.01,576.87 L552.74,576.63 L553.48,576.40 L554.22,576.18 L554.95,575.97 L555.69,575.77 L556.43,575.58 L557.16,575.40 L557.90,575.22 L558.64,575.05 L559.37,574.89 L560.11,574.74 L560.85,574.59 L561.58,574.45 L562.32,574.31 L563.06,574.18 L563.79,574.06 L564.53,573.94 L565.27,573.82 L566.00,573.71 L566.74,573.61 L567.48,573.51 L568.21,573.41 L568.95,573.32 L569.69,573.23 L570.42,573.15 L571.16,573.07 L571.90,572.99 L572.63,572.91 L573.37,572.84 L574.11,572.78 L574.84,572.71 L575.58,572.65 L576.32,572.59 L577.05,572.53 L577.79,572.48 L578.53,572.42 L579.26,572.37 L580.00,572.32 L580.74,572.28 L581.47,572.23 L582.21,572.19 L582.95,572.15 L583.68,572.11 L584.42,572.08 L585.16,572.04 L585.89,572.01 L586.63,571.97 L587.37,571.94 L588.10,571.91 L588.84,571.88 L589.58,571.86 L590.31,571.83 L591.05,571.80 L591.79,571.78 L592.52,571.76 L593.26,571.73 L594.00,571.71 L594.73,571.69 L595.47,571.67 L596.21,571.66 L596.94,571.64 L597.68,571.62 L598.42,571.60 L599.15,571.59 L599.89,571.57 L600.63,571.56 L601.36,571.55 L602.10,571.53" fill="none" stroke="#b6ec8e" stroke-width="0.7"/>
<path d="M513.70,624.50 L514.44,621.52 L515.17,618.70 L515.91,616.05 L516.65,613.54 L517.38,611.17 L518.12,608.94 L518.86,606.82 L519.59,604.83 L520.33,602.95 L521.07,601.18 L521.80,599.50 L522.54,597.92 L523.28,596.42 L524.01,595.01 L524.75,593.68 L525.49,592.43 L526.22,591.24 L526.96,590.12 L527.70,589.06 L528.43,588.07 L529.17,587.12 L529.91,586.23 L530.64,585.39 L531.38,584.60 L532.12,583.85 L532.85,583.15 L533.59,582.48 L534.33,581.85 L535.06,581.26 L535.80,580.70 L536.54,580.17 L537.27,579.67 L538.01,579.19 L538.75,578.75 L539.48,578.33 L540.22,577.93 L540.96,577.56 L541.69,577.20 L542.43,576.87 L543.17,576.55 L543.90,576.25 L544.64,575.97 L545.38,575.71 L546.11,575.46 L546.85,575.22 L547.59,575.00 L548.32,574.79 L549.06,574.59 L549.80,574.40 L550.53,574.22 L551.27,574.06 L552.01,573.90 L552.74,573.75 L553.48,573.61 L554.22,573.48 L554.95,573.35 L555.69,573.23 L556.43,573.12 L557.16,573.01 L557.90,572.91 L558.64,572.82 L559.37,572.73 L560.11,572.65 L560.85,572.57 L561.58,572.49 L562.32,572.42 L563.06,572.36 L563.79,572.29 L564.53,572.23 L565.27,572.18 L566.00,572.13 L566.74,572.08 L567.48,572.03 L568.21,571.98 L568.95,571.94 L569.69,571.90 L570.42,571.86 L571.16,571.83 L571.90,571.80 L572.63,571.76 L573.37,571.73 L574.11,571.71 L574.84,571.68 L575.58,571.66 L576.32,571.63 L577.05,571.61 L577.79,571.59 L578.53,571.57 L579.26,571.55 L580.00,571.53 L580.74,571.52 L581.47,571.50 L582.21,571.48 L582.95,571.47 L583.68,571.46 L584.42,571.44 L585.16,571.43 L585.89,571.42 L586.63,571.41 L587.37,571.40 L588.10,571.39 L588.84,571.38 L589.58,571.37 L590.31,571.37 L591.05,571.36 L591.79,571.35 L592.52,571.35 L593.26,571.34 L594.00,571.33 L594.73,571.33 L595.47,571.32 L596.21,571.32 L596.94,571.31 L597.68,571.31 L598.42,571.30 L599.15,571.30 L599.89,571.30 L600.63,571.29 L601.36,571.29 L602.10,571.29" fill="none" stroke="#4aa6c4" stroke-width="0.7"/>
<path d="M513.70,624.50 L514.44,620.84 L515.17,617.44 L515.91,614.27 L516.65,611.31 L517.38,608.56 L518.12,606.00 L518.86,603.62 L519.59,601.39 L520.33,599.32 L521.07,597.40 L521.80,595.60 L522.54,593.93 L523.28,592.37 L524.01,590.92 L524.75,589.57 L525.49,588.31 L526.22,587.14 L526.96,586.05 L527.70,585.03 L528.43,584.08 L529.17,583.20 L529.91,582.38 L530.64,581.61 L531.38,580.90 L532.12,580.24 L532.85,579.62 L533.59,579.04 L534.33,578.51 L535.06,578.01 L535.80,577.54 L536.54,577.11 L537.27,576.71 L538.01,576.33 L538.75,575.98 L539.48,575.66 L540.22,575.35 L540.96,575.07 L541.69,574.81 L542.43,574.56 L543.17,574.33 L543.90,574.12 L544.64,573.92 L545.38,573.74 L546.11,573.57 L546.85,573.41 L547.59,573.26 L548.32,573.12 L549.06,572.99 L549.80,572.87 L550.53,572.76 L551.27,572.65 L552.01,572.55 L552.74,572.46 L553.48,572.38 L554.22,572.30 L554.95,572.23 L555.69,572.16 L556.43,572.10 L557.16,572.04 L557.90,571.98 L558.64,571.93 L559.37,571.88 L560.11,571.84 L560.85,571.80 L561.58,571.76 L562.32,571.72 L563.06,571.69 L563.79,571.66 L564.53,571.63 L565.27,571.60 L566.00,571.58 L566.74,571.55 L567.48,571.53 L568.21,571.51 L568.95,571.49 L569.69,571.47 L570.42,571.46 L571.16,571.44 L571.90,571.43 L572.63,571.41 L573.37,571.40 L574.11,571.39 L574.84,571.38 L575.58,571.37 L576.32,571.36 L577.05,571.35 L577.79,571.34 L578.53,571.34 L579.26,571.33 L580.00,571.32 L580.74,571.32 L581.47,571.31 L582.21,571.30 L582.95,571.30 L583.68,571.30 L584.42,571.29 L585.16,571.29 L585.89,571.28 L586.63,571.28 L587.37,571.28 L588.10,571.27 L588.84,571.27 L589.58,571.27 L590.31,571.27 L591.05,571.26 L591.79,571.26 L592.52,571.26 L593.26,571.26 L594.00,571.26 L594.73,571.25 L595.47,571.25 L596.21,571.25 L596.94,571.25 L597.68,571.25 L598.42,571.25 L599.15,571.25 L599.89,571.25 L600.63,571.25 L601.36,571.24 L602.10,571.24" fill="none" stroke="#4a3d80" stroke-width="0.7"/>
<circle cx="543.17" cy="573.90" r="2.10" fill="#3b2d72" stroke="#555" stroke-width="0.4"/>
<circle cx="572.63" cy="572.83" r="2.10" fill="#3b2d72" stroke="#555" stroke-width="0.4"/>
<circle cx="602.10" cy="572.30" r="2.10" fill="#3b2d72" stroke="#555" stroke-width="0.4"/>
<path d="M543.17,573.93 L545.17,576.03 L543.17,578.13 L541.17,576.03Z" fill="#3d9bbd"/>
<path d="M572.63,570.73 L574.63,572.83 L572.63,574.93 L570.63,572.83Z" fill="#3d9bbd"/>
<path d="M602.10,569.67 L604.10,571.77 L602.10,573.87 L600.10,571.77Z" fill="#3d9bbd"/>
<path d="M543.17,580.46 L545.37,576.56 L540.97,576.56Z" fill="#c0f09a"/>
<path d="M572.63,576.20 L574.83,572.30 L570.43,572.30Z" fill="#c0f09a"/>
<path d="M602.10,574.07 L604.30,570.17 L599.90,570.17Z" fill="#c0f09a"/>
<path d="M543.17,578.52 L545.37,582.42 L540.97,582.42Z" fill="#ef90f2"/>
<path d="M572.63,575.33 L574.83,579.23 L570.43,579.23Z" fill="#ef90f2"/>
<path d="M602.10,571.60 L604.30,575.50 L599.90,575.50Z" fill="#ef90f2"/>
<rect x="541.27" y="579.99" width="3.80" height="3.80" fill="#9b7fe6"/>
<rect x="570.73" y="576.79" width="3.80" height="3.80" fill="#9b7fe6"/>
<rect x="600.20" y="573.59" width="3.80" height="3.80" fill="#9b7fe6"/>
<line x1="619.50" y1="550.00" x2="629.10" y2="550.00" stroke="#8a7ae0" stroke-width="0.8"/>
<rect x="622.40" y="548.10" width="3.80" height="3.80" fill="#9b7fe6"/>
<text x="633.50" y="552.48" font-size="7.2" fill="#222">12.5 nM</text>
<line x1="619.50" y1="560.80" x2="629.10" y2="560.80" stroke="#ee8cf0" stroke-width="0.8"/>
<path d="M624.30,558.50 L626.50,562.40 L622.10,562.40Z" fill="#ef90f2"/>
<text x="633.50" y="563.28" font-size="7.2" fill="#222">25 nM</text>
<line x1="619.50" y1="571.60" x2="629.10" y2="571.60" stroke="#b6ec8e" stroke-width="0.8"/>
<path d="M624.30,573.90 L626.50,570.00 L622.10,570.00Z" fill="#c0f09a"/>
<text x="633.50" y="574.08" font-size="7.2" fill="#222">50 nM</text>
<line x1="619.50" y1="582.40" x2="629.10" y2="582.40" stroke="#4aa6c4" stroke-width="0.8"/>
<path d="M624.30,580.30 L626.30,582.40 L624.30,584.50 L622.30,582.40Z" fill="#3d9bbd"/>
<text x="633.50" y="584.88" font-size="7.2" fill="#222">100 nM</text>
<line x1="619.50" y1="593.20" x2="629.10" y2="593.20" stroke="#4a3d80" stroke-width="0.8"/>
<circle cx="624.30" cy="593.20" r="2.10" fill="#3b2d72" stroke="#555" stroke-width="0.4"/>
<text x="633.50" y="595.68" font-size="7.2" fill="#222">200 nM</text>
<rect x="469.20" y="652.4" width="187.30" height="16.9" fill="none" stroke="#555" stroke-width="0.8"/>
<line x1="469.20" y1="660.50" x2="656.50" y2="660.50" stroke="#555" stroke-width="0.8"/>
<text x="519.77" y="657.95" font-size="6.8" text-anchor="middle" fill="#222">12.5 nM</text>
<text x="520.61" y="666.55" font-size="6.8" text-anchor="middle" fill="#222">0.0116</text>
<text x="550.58" y="657.95" font-size="6.8" text-anchor="middle" fill="#222">25 nM</text>
<text x="551.87" y="666.55" font-size="6.8" text-anchor="middle" fill="#222">0.0121</text>
<text x="582.20" y="657.95" font-size="6.8" text-anchor="middle" fill="#222">50 nM</text>
<text x="578.08" y="666.55" font-size="6.8" text-anchor="middle" fill="#222">0.0144</text>
<text x="611.17" y="657.95" font-size="6.8" text-anchor="middle" fill="#222">100 nM</text>
<text x="608.93" y="666.55" font-size="6.8" text-anchor="middle" fill="#222">0.0192</text>
<text x="642.45" y="657.95" font-size="6.8" text-anchor="middle" fill="#222">200 nM</text>
<text x="640.88" y="666.55" font-size="6.8" text-anchor="middle" fill="#222">0.0237</text>
<text x="490.85" y="666.55" font-size="6.8" text-anchor="middle" fill="#222">k_obs</text>
<text x="9.60" y="718.70" font-size="25" font-weight="bold">F</text>
<text x="120.70" y="713.50" font-size="11" font-weight="bold" text-anchor="middle">BTK IB MM-fitting</text>
<line x1="62.20" y1="722.92" x2="62.20" y2="802.50" stroke="#555" stroke-width="1.3"/>
<line x1="61.60" y1="801.90" x2="180.40" y2="801.90" stroke="#555" stroke-width="1.3"/>
<line x1="59.00" y1="801.90" x2="62.20" y2="801.90" stroke="#555" stroke-width="1.1"/>
<text x="58.60" y="804.07" font-size="6.3" font-weight="bold" text-anchor="end" fill="#222">0.00</text>
<line x1="59.00" y1="782.28" x2="62.20" y2="782.28" stroke="#555" stroke-width="1.1"/>
<text x="58.60" y="784.45" font-size="6.3" font-weight="bold" text-anchor="end" fill="#222">0.01</text>
<line x1="59.00" y1="762.66" x2="62.20" y2="762.66" stroke="#555" stroke-width="1.1"/>
<text x="58.60" y="764.83" font-size="6.3" font-weight="bold" text-anchor="end" fill="#222">0.02</text>
<line x1="59.00" y1="743.04" x2="62.20" y2="743.04" stroke="#555" stroke-width="1.1"/>
<text x="58.60" y="745.21" font-size="6.3" font-weight="bold" text-anchor="end" fill="#222">0.03</text>
<line x1="59.00" y1="723.42" x2="62.20" y2="723.42" stroke="#555" stroke-width="1.1"/>
<text x="58.60" y="725.59" font-size="6.3" font-weight="bold" text-anchor="end" fill="#222">0.04</text>
<line x1="62.20" y1="801.90" x2="62.20" y2="805.10" stroke="#555" stroke-width="1.1"/>
<text x="62.20" y="811.87" font-size="6.3" font-weight="bold" text-anchor="middle" fill="#222">0</text>
<line x1="85.72" y1="801.90" x2="85.72" y2="805.10" stroke="#555" stroke-width="1.1"/>
<text x="85.72" y="811.87" font-size="6" font-weight="bold" text-anchor="middle" fill="#222">5×10<tspan font-size="4.2" dy="-2.6">-8</tspan></text>
<line x1="109.24" y1="801.90" x2="109.24" y2="805.10" stroke="#555" stroke-width="1.1"/>
<text x="109.24" y="811.87" font-size="6" font-weight="bold" text-anchor="middle" fill="#222">1×10<tspan font-size="4.2" dy="-2.6">-7</tspan></text>
<line x1="132.76" y1="801.90" x2="132.76" y2="805.10" stroke="#555" stroke-width="1.1"/>
<text x="132.76" y="811.87" font-size="6" font-weight="bold" text-anchor="middle" fill="#222">1.5×10<tspan font-size="4.2" dy="-2.6">-7</tspan></text>
<line x1="156.28" y1="801.90" x2="156.28" y2="805.10" stroke="#555" stroke-width="1.1"/>
<text x="156.28" y="811.87" font-size="6" font-weight="bold" text-anchor="middle" fill="#222">2×10<tspan font-size="4.2" dy="-2.6">-7</tspan></text>
<line x1="179.80" y1="801.90" x2="179.80" y2="805.10" stroke="#555" stroke-width="1.1"/>
<text x="179.80" y="811.87" font-size="6" font-weight="bold" text-anchor="middle" fill="#222">2.5×10<tspan font-size="4.2" dy="-2.6">-7</tspan></text>
<text x="121.00" y="823.67" font-size="9.2" font-weight="bold" text-anchor="middle">IB Conc. (M)</text>
<text transform="translate(41.60,762.80) rotate(-90)" font-size="9.6" font-weight="bold" text-anchor="middle">k<tspan font-size="6.4" dy="2.0">obs</tspan></text>
<path d="M62.20,801.90 L63.14,800.47 L64.08,799.10 L65.02,797.77 L65.96,796.49 L66.90,795.25 L67.84,794.05 L68.79,792.89 L69.73,791.77 L70.67,790.69 L71.61,789.64 L72.55,788.62 L73.49,787.63 L74.43,786.67 L75.37,785.74 L76.31,784.84 L77.25,783.96 L78.19,783.11 L79.13,782.28 L80.08,781.47 L81.02,780.69 L81.96,779.93 L82.90,779.18 L83.84,778.46 L84.78,777.75 L85.72,777.06 L86.66,776.39 L87.60,775.74 L88.54,775.10 L89.48,774.48 L90.42,773.87 L91.36,773.28 L92.31,772.70 L93.25,772.13 L94.19,771.58 L95.13,771.04 L96.07,770.51 L97.01,769.99 L97.95,769.48 L98.89,768.99 L99.83,768.50 L100.77,768.03 L101.71,767.56 L102.65,767.11 L103.60,766.66 L104.54,766.23 L105.48,765.80 L106.42,765.38 L107.36,764.97 L108.30,764.56 L109.24,764.17 L110.18,763.78 L111.12,763.40 L112.06,763.03 L113.00,762.66 L113.94,762.30 L114.88,761.95 L115.83,761.60 L116.77,761.26 L117.71,760.92 L118.65,760.59 L119.59,760.27 L120.53,759.95 L121.47,759.64 L122.41,759.33 L123.35,759.03 L124.29,758.74 L125.23,758.44 L126.17,758.16 L127.12,757.87 L128.06,757.60 L129.00,757.32 L129.94,757.05 L130.88,756.79 L131.82,756.53 L132.76,756.27 L133.70,756.02 L134.64,755.77 L135.58,755.53 L136.52,755.28 L137.46,755.05 L138.40,754.81 L139.35,754.58 L140.29,754.35 L141.23,754.13 L142.17,753.91 L143.11,753.69 L144.05,753.48 L144.99,753.26 L145.93,753.06 L146.87,752.85 L147.81,752.65 L148.75,752.45 L149.69,752.25 L150.64,752.05 L151.58,751.86 L152.52,751.67 L153.46,751.49 L154.40,751.30 L155.34,751.12 L156.28,750.94" fill="none" stroke="#777" stroke-width="0.8"/>
<circle cx="68.08" cy="795.03" r="2.05" fill="#000"/>
<circle cx="68.08" cy="796.41" r="2.05" fill="#000"/>
<circle cx="73.96" cy="790.13" r="2.05" fill="#000"/>
<circle cx="73.96" cy="791.31" r="2.05" fill="#000"/>
<circle cx="85.72" cy="777.96" r="2.05" fill="#000"/>
<circle cx="85.72" cy="781.30" r="2.05" fill="#000"/>
<circle cx="109.24" cy="752.46" r="2.05" fill="#000"/>
<circle cx="109.24" cy="762.27" r="2.05" fill="#000"/>
<circle cx="156.28" cy="747.16" r="2.05" fill="#000"/>
<circle cx="156.28" cy="762.27" r="2.05" fill="#000"/>
<text x="137.80" y="771.08" font-size="6.6" fill="#222">k<tspan font-size="4.6" dy="1.6">inact</tspan><tspan dy="-1.6"> = 0.040 ± 0.009 s</tspan><tspan font-size="4.6" dy="-2.4">-1</tspan></text>
<text x="137.80" y="782.38" font-size="6.6" fill="#222">K<tspan font-size="4.6" dy="1.6">I</tspan><tspan dy="-1.6"> = 1.08e-7 ± 4.86e-8 M</tspan></text>
<text x="137.80" y="794.98" font-size="6.6" fill="#222">k<tspan font-size="4.6" dy="1.6">inact</tspan><tspan dy="-1.6">/K</tspan><tspan font-size="4.6" dy="1.6">I</tspan><tspan dy="-1.6"> = 3.65e5 ± 9.03e4 M</tspan><tspan font-size="4.6" dy="-2.4">-1</tspan><tspan dy="2.4">s</tspan><tspan font-size="4.6" dy="-2.4">-1</tspan></text>
<text x="349.00" y="713.50" font-size="11" font-weight="bold" text-anchor="middle">TEC IB MM-fitting</text>
<line x1="290.50" y1="723.10" x2="290.50" y2="802.40" stroke="#555" stroke-width="1.3"/>
<line x1="289.90" y1="801.80" x2="408.20" y2="801.80" stroke="#555" stroke-width="1.3"/>
<line x1="287.30" y1="801.80" x2="290.50" y2="801.80" stroke="#555" stroke-width="1.1"/>
<text x="286.90" y="803.97" font-size="6.3" font-weight="bold" text-anchor="end" fill="#222">0.00</text>
<line x1="287.30" y1="782.25" x2="290.50" y2="782.25" stroke="#555" stroke-width="1.1"/>
<text x="286.90" y="784.42" font-size="6.3" font-weight="bold" text-anchor="end" fill="#222">0.01</text>
<line x1="287.30" y1="762.70" x2="290.50" y2="762.70" stroke="#555" stroke-width="1.1"/>
<text x="286.90" y="764.87" font-size="6.3" font-weight="bold" text-anchor="end" fill="#222">0.02</text>
<line x1="287.30" y1="743.15" x2="290.50" y2="743.15" stroke="#555" stroke-width="1.1"/>
<text x="286.90" y="745.32" font-size="6.3" font-weight="bold" text-anchor="end" fill="#222">0.03</text>
<line x1="287.30" y1="723.60" x2="290.50" y2="723.60" stroke="#555" stroke-width="1.1"/>
<text x="286.90" y="725.77" font-size="6.3" font-weight="bold" text-anchor="end" fill="#222">0.04</text>
<line x1="290.50" y1="801.80" x2="290.50" y2="805.00" stroke="#555" stroke-width="1.1"/>
<text x="290.50" y="811.77" font-size="6.3" font-weight="bold" text-anchor="middle" fill="#222">0</text>
<line x1="313.92" y1="801.80" x2="313.92" y2="805.00" stroke="#555" stroke-width="1.1"/>
<text x="313.92" y="811.77" font-size="6" font-weight="bold" text-anchor="middle" fill="#222">5×10<tspan font-size="4.2" dy="-2.6">-8</tspan></text>
<line x1="337.34" y1="801.80" x2="337.34" y2="805.00" stroke="#555" stroke-width="1.1"/>
<text x="337.34" y="811.77" font-size="6" font-weight="bold" text-anchor="middle" fill="#222">1×10<tspan font-size="4.2" dy="-2.6">-7</tspan></text>
<line x1="360.76" y1="801.80" x2="360.76" y2="805.00" stroke="#555" stroke-width="1.1"/>
<text x="360.76" y="811.77" font-size="6" font-weight="bold" text-anchor="middle" fill="#222">1.5×10<tspan font-size="4.2" dy="-2.6">-7</tspan></text>
<line x1="384.18" y1="801.80" x2="384.18" y2="805.00" stroke="#555" stroke-width="1.1"/>
<text x="384.18" y="811.77" font-size="6" font-weight="bold" text-anchor="middle" fill="#222">2×10<tspan font-size="4.2" dy="-2.6">-7</tspan></text>
<line x1="407.60" y1="801.80" x2="407.60" y2="805.00" stroke="#555" stroke-width="1.1"/>
<text x="407.60" y="811.77" font-size="6" font-weight="bold" text-anchor="middle" fill="#222">2.5×10<tspan font-size="4.2" dy="-2.6">-7</tspan></text>
<text x="349.00" y="823.67" font-size="9.2" font-weight="bold" text-anchor="middle">IB Conc. (M)</text>
<text transform="translate(267.80,762.00) rotate(-90)" font-size="9.6" font-weight="bold" text-anchor="middle">k<tspan font-size="6.4" dy="2.0">obs</tspan></text>
<path d="M290.50,801.80 L291.44,800.74 L292.37,799.69 L293.31,798.66 L294.25,797.65 L295.18,796.65 L296.12,795.67 L297.06,794.71 L297.99,793.76 L298.93,792.83 L299.87,791.91 L300.80,791.01 L301.74,790.12 L302.68,789.24 L303.62,788.38 L304.55,787.53 L305.49,786.69 L306.43,785.87 L307.36,785.06 L308.30,784.26 L309.24,783.47 L310.17,782.69 L311.11,781.93 L312.05,781.17 L312.98,780.43 L313.92,779.69 L314.86,778.97 L315.79,778.26 L316.73,777.56 L317.67,776.86 L318.60,776.18 L319.54,775.50 L320.48,774.84 L321.41,774.18 L322.35,773.53 L323.29,772.89 L324.22,772.26 L325.16,771.64 L326.10,771.03 L327.04,770.42 L327.97,769.82 L328.91,769.23 L329.85,768.65 L330.78,768.07 L331.72,767.50 L332.66,766.94 L333.59,766.38 L334.53,765.83 L335.47,765.29 L336.40,764.76 L337.34,764.23 L338.28,763.70 L339.21,763.19 L340.15,762.68 L341.09,762.17 L342.02,761.67 L342.96,761.18 L343.90,760.69 L344.83,760.21 L345.77,759.74 L346.71,759.27 L347.64,758.80 L348.58,758.34 L349.52,757.89 L350.46,757.44 L351.39,756.99 L352.33,756.55 L353.27,756.12 L354.20,755.69 L355.14,755.26 L356.08,754.84 L357.01,754.42 L357.95,754.01 L358.89,753.60 L359.82,753.20 L360.76,752.80 L361.70,752.40 L362.63,752.01 L363.57,751.62 L364.51,751.24 L365.44,750.86 L366.38,750.48 L367.32,750.11 L368.25,749.75 L369.19,749.38 L370.13,749.02 L371.06,748.66 L372.00,748.31 L372.94,747.96 L373.88,747.61 L374.81,747.27 L375.75,746.93 L376.69,746.59 L377.62,746.26 L378.56,745.93 L379.50,745.60 L380.43,745.28 L381.37,744.95 L382.31,744.64 L383.24,744.32 L384.18,744.01" fill="none" stroke="#777" stroke-width="0.8"/>
<circle cx="296.36" cy="797.30" r="2.05" fill="#000"/>
<circle cx="296.36" cy="797.69" r="2.05" fill="#000"/>
<circle cx="302.21" cy="791.83" r="2.05" fill="#000"/>
<circle cx="302.21" cy="792.61" r="2.05" fill="#000"/>
<circle cx="313.92" cy="779.90" r="2.05" fill="#000"/>
<circle cx="313.92" cy="781.86" r="2.05" fill="#000"/>
<circle cx="337.34" cy="758.59" r="2.05" fill="#000"/>
<circle cx="337.34" cy="762.50" r="2.05" fill="#000"/>
<circle cx="384.18" cy="742.17" r="2.05" fill="#000"/>
<circle cx="384.18" cy="748.23" r="2.05" fill="#000"/>
<text x="366.00" y="771.08" font-size="6.6" fill="#222">k<tspan font-size="4.6" dy="1.6">inact</tspan><tspan dy="-1.6"> = 0.064 ± 0.011 s</tspan><tspan font-size="4.6" dy="-2.4">-1</tspan></text>
<text x="366.00" y="782.68" font-size="6.6" fill="#222">K<tspan font-size="4.6" dy="1.6">I</tspan><tspan dy="-1.6"> = 2.33e-7 ± 6.08e-8 M</tspan></text>
<text x="366.00" y="796.28" font-size="6.6" fill="#222">k<tspan font-size="4.6" dy="1.6">inact</tspan><tspan dy="-1.6">/K</tspan><tspan font-size="4.6" dy="1.6">I</tspan><tspan dy="-1.6"> = 2.75e5 ± 2.85e4 M</tspan><tspan font-size="4.6" dy="-2.4">-1</tspan><tspan dy="2.4">s</tspan><tspan font-size="4.6" dy="-2.4">-1</tspan></text>
<text x="572.50" y="713.50" font-size="11" font-weight="bold" text-anchor="middle">BLK IB MM-fitting</text>
<line x1="513.80" y1="723.09" x2="513.80" y2="802.10" stroke="#555" stroke-width="1.3"/>
<line x1="513.20" y1="801.50" x2="631.90" y2="801.50" stroke="#555" stroke-width="1.3"/>
<line x1="510.60" y1="801.50" x2="513.80" y2="801.50" stroke="#555" stroke-width="1.1"/>
<text x="510.20" y="803.67" font-size="6.3" font-weight="bold" text-anchor="end" fill="#222">0.00</text>
<line x1="510.60" y1="775.53" x2="513.80" y2="775.53" stroke="#555" stroke-width="1.1"/>
<text x="510.20" y="777.70" font-size="6.3" font-weight="bold" text-anchor="end" fill="#222">0.01</text>
<line x1="510.60" y1="749.56" x2="513.80" y2="749.56" stroke="#555" stroke-width="1.1"/>
<text x="510.20" y="751.73" font-size="6.3" font-weight="bold" text-anchor="end" fill="#222">0.02</text>
<line x1="510.60" y1="723.59" x2="513.80" y2="723.59" stroke="#555" stroke-width="1.1"/>
<text x="510.20" y="725.76" font-size="6.3" font-weight="bold" text-anchor="end" fill="#222">0.03</text>
<line x1="513.80" y1="801.50" x2="513.80" y2="804.70" stroke="#555" stroke-width="1.1"/>
<text x="513.80" y="811.47" font-size="6.3" font-weight="bold" text-anchor="middle" fill="#222">0</text>
<line x1="537.30" y1="801.50" x2="537.30" y2="804.70" stroke="#555" stroke-width="1.1"/>
<text x="537.30" y="811.47" font-size="6" font-weight="bold" text-anchor="middle" fill="#222">5×10<tspan font-size="4.2" dy="-2.6">-8</tspan></text>
<line x1="560.80" y1="801.50" x2="560.80" y2="804.70" stroke="#555" stroke-width="1.1"/>
<text x="560.80" y="811.47" font-size="6" font-weight="bold" text-anchor="middle" fill="#222">1×10<tspan font-size="4.2" dy="-2.6">-7</tspan></text>
<line x1="584.30" y1="801.50" x2="584.30" y2="804.70" stroke="#555" stroke-width="1.1"/>
<text x="584.30" y="811.47" font-size="6" font-weight="bold" text-anchor="middle" fill="#222">1.5×10<tspan font-size="4.2" dy="-2.6">-7</tspan></text>
<line x1="607.80" y1="801.50" x2="607.80" y2="804.70" stroke="#555" stroke-width="1.1"/>
<text x="607.80" y="811.47" font-size="6" font-weight="bold" text-anchor="middle" fill="#222">2×10<tspan font-size="4.2" dy="-2.6">-7</tspan></text>
<line x1="631.30" y1="801.50" x2="631.30" y2="804.70" stroke="#555" stroke-width="1.1"/>
<text x="631.30" y="811.47" font-size="6" font-weight="bold" text-anchor="middle" fill="#222">2.5×10<tspan font-size="4.2" dy="-2.6">-7</tspan></text>
<text x="572.90" y="823.67" font-size="9.2" font-weight="bold" text-anchor="middle">IB Conc. (M)</text>
<text transform="translate(493.10,762.40) rotate(-90)" font-size="9.6" font-weight="bold" text-anchor="middle">k<tspan font-size="6.4" dy="2.0">obs</tspan></text>
<path d="M513.80,801.50 L514.74,797.69 L515.68,794.36 L516.62,791.42 L517.56,788.80 L518.50,786.46 L519.44,784.36 L520.38,782.46 L521.32,780.72 L522.26,779.14 L523.20,777.69 L524.14,776.36 L525.08,775.13 L526.02,773.99 L526.96,772.93 L527.90,771.95 L528.84,771.03 L529.78,770.17 L530.72,769.36 L531.66,768.60 L532.60,767.89 L533.54,767.22 L534.48,766.58 L535.42,765.98 L536.36,765.42 L537.30,764.88 L538.24,764.36 L539.18,763.88 L540.12,763.41 L541.06,762.97 L542.00,762.54 L542.94,762.14 L543.88,761.75 L544.82,761.38 L545.76,761.03 L546.70,760.69 L547.64,760.36 L548.58,760.05 L549.52,759.75 L550.46,759.46 L551.40,759.18 L552.34,758.91 L553.28,758.65 L554.22,758.40 L555.16,758.16 L556.10,757.92 L557.04,757.70 L557.98,757.48 L558.92,757.27 L559.86,757.06 L560.80,756.86 L561.74,756.67 L562.68,756.49 L563.62,756.30 L564.56,756.13 L565.50,755.96 L566.44,755.79 L567.38,755.63 L568.32,755.48 L569.26,755.32 L570.20,755.18 L571.14,755.03 L572.08,754.89 L573.02,754.75 L573.96,754.62 L574.90,754.49 L575.84,754.36 L576.78,754.24 L577.72,754.12 L578.66,754.00 L579.60,753.89 L580.54,753.78 L581.48,753.67 L582.42,753.56 L583.36,753.46 L584.30,753.35 L585.24,753.25 L586.18,753.16 L587.12,753.06 L588.06,752.97 L589.00,752.88 L589.94,752.79 L590.88,752.70 L591.82,752.61 L592.76,752.53 L593.70,752.45 L594.64,752.36 L595.58,752.29 L596.52,752.21 L597.46,752.13 L598.40,752.06 L599.34,751.98 L600.28,751.91 L601.22,751.84 L602.16,751.77 L603.10,751.70 L604.04,751.64 L604.98,751.57 L605.92,751.51 L606.86,751.44 L607.80,751.38" fill="none" stroke="#777" stroke-width="0.8"/>
<circle cx="519.67" cy="771.37" r="2.05" fill="#000"/>
<circle cx="519.67" cy="778.91" r="2.05" fill="#000"/>
<circle cx="525.55" cy="769.82" r="2.05" fill="#000"/>
<circle cx="525.55" cy="777.35" r="2.05" fill="#000"/>
<circle cx="537.30" cy="764.10" r="2.05" fill="#000"/>
<circle cx="537.30" cy="785.66" r="2.05" fill="#000"/>
<circle cx="560.80" cy="751.38" r="2.05" fill="#000"/>
<circle cx="560.80" cy="767.48" r="2.05" fill="#000"/>
<circle cx="607.80" cy="739.69" r="2.05" fill="#000"/>
<circle cx="607.80" cy="750.34" r="2.05" fill="#000"/>
<text x="589.30" y="771.48" font-size="6.6" fill="#222">k<tspan font-size="4.6" dy="1.6">inact</tspan><tspan dy="-1.6"> = 0.022 ± 0.004 s</tspan><tspan font-size="4.6" dy="-2.4">-1</tspan></text>
<text x="589.30" y="782.98" font-size="6.6" fill="#222">K<tspan font-size="4.6" dy="1.6">I</tspan><tspan dy="-1.6"> = 2.80e-8 ± 1.59e-8 M</tspan></text>
<text x="589.30" y="795.68" font-size="6.6" fill="#222">k<tspan font-size="4.6" dy="1.6">inact</tspan><tspan dy="-1.6">/K</tspan><tspan font-size="4.6" dy="1.6">I</tspan><tspan dy="-1.6"> = 7.87e5 ± 3.35e5 M</tspan><tspan font-size="4.6" dy="-2.4">-1</tspan><tspan dy="2.4">s</tspan><tspan font-size="4.6" dy="-2.4">-1</tspan></text>
</svg>
</body></html>
